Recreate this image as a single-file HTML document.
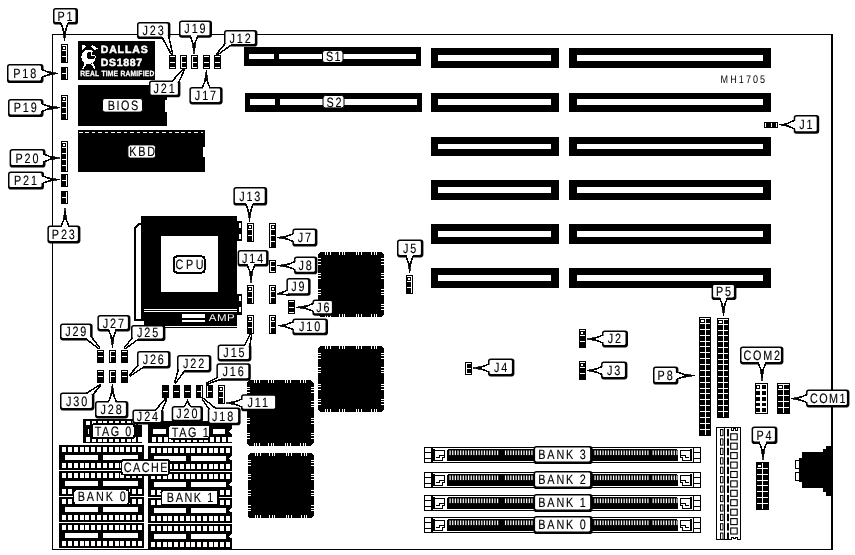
<!DOCTYPE html>
<html><head><meta charset="utf-8"><title>MH1705 motherboard layout</title>
<style>
html,body{margin:0;padding:0;background:#fff;}
svg{display:block;font-family:"Liberation Sans",sans-serif;filter:grayscale(1);}
</style></head>
<body>
<svg width="855" height="555" viewBox="0 0 855 555" shape-rendering="crispEdges" text-rendering="geometricPrecision">
<rect x="0" y="0" width="855" height="555" fill="#fff"/>
<rect x="52.5" y="34.5" width="779.5" height="515" fill="#fff" stroke="#000" stroke-width="1"/>
<rect x="831" y="34" width="2" height="516" fill="#000"/>
<rect x="431" y="48" width="128" height="19.6" fill="#000"/>
<rect x="438" y="55" width="113" height="6" fill="#fff"/>
<rect x="569" y="48" width="202" height="19.6" fill="#000"/>
<rect x="577" y="55" width="186.4" height="6" fill="#fff"/>
<rect x="431" y="93" width="128" height="18.6" fill="#000"/>
<rect x="438" y="99" width="113" height="6" fill="#fff"/>
<rect x="569" y="93" width="202" height="18.6" fill="#000"/>
<rect x="577" y="99" width="186.4" height="6" fill="#fff"/>
<rect x="431" y="137" width="128" height="19" fill="#000"/>
<rect x="438" y="144" width="113" height="5" fill="#fff"/>
<rect x="569" y="137" width="202" height="19" fill="#000"/>
<rect x="577" y="144" width="186.4" height="5" fill="#fff"/>
<rect x="431" y="179.6" width="128" height="20.4" fill="#000"/>
<rect x="438" y="187" width="113" height="6" fill="#fff"/>
<rect x="569" y="179.6" width="202" height="20.4" fill="#000"/>
<rect x="577" y="187" width="186.4" height="6" fill="#fff"/>
<rect x="431" y="224" width="128" height="19.6" fill="#000"/>
<rect x="438" y="231" width="113" height="6" fill="#fff"/>
<rect x="569" y="224" width="202" height="19.6" fill="#000"/>
<rect x="577" y="231" width="186.4" height="6" fill="#fff"/>
<rect x="431" y="268" width="128" height="19.6" fill="#000"/>
<rect x="438" y="275" width="113" height="6" fill="#fff"/>
<rect x="569" y="268" width="202" height="19.6" fill="#000"/>
<rect x="577" y="275" width="186.4" height="6" fill="#fff"/>
<rect x="244" y="47" width="177" height="18.6" fill="#000"/>
<rect x="249" y="54" width="25" height="5" fill="#fff"/>
<rect x="279" y="54" width="137" height="5" fill="#fff"/>
<rect x="245" y="93" width="177" height="18.6" fill="#000"/>
<rect x="250" y="99" width="25" height="6" fill="#fff"/>
<rect x="280" y="99" width="137" height="6" fill="#fff"/>
<rect x="78" y="41" width="77" height="38.6" fill="#000"/>
<rect x="78" y="85" width="89" height="40.6" fill="#000"/>
<rect x="165" y="99.6" width="2" height="12.6" fill="#fff"/>
<rect x="78" y="130" width="127" height="42.4" fill="#000"/>
<rect x="203" y="146.7" width="2" height="10" fill="#fff"/>
<line x1="79" y1="132.5" x2="203" y2="132.5" stroke="#fff" stroke-width="1" stroke-dasharray="3.5 2.9"/>
<text transform="translate(100.7 53.4) scale(1 1)" font-size="10.5" text-anchor="start" textLength="47" lengthAdjust="spacing" font-weight="bold" fill="#fff" stroke="#fff" stroke-width="0.5">DALLAS</text>
<text transform="translate(100.7 66) scale(1 1)" font-size="10.5" text-anchor="start" textLength="41.5" lengthAdjust="spacing" font-weight="bold" fill="#fff" stroke="#fff" stroke-width="0.5">DS1887</text>
<text transform="translate(80.3 75.7) scale(0.88 1)" font-size="7.6" text-anchor="start" textLength="84.0909" lengthAdjust="spacing" font-weight="bold" fill="#fff" stroke="#fff" stroke-width="0.3">REAL TIME RAMIFIED</text>
<g fill="#fff"><circle cx="88.5" cy="57" r="7.2"/><polygon points="82,44.5 86,46 82.5,49.5"/><polygon points="92,44.5 97.5,48.5 95,50 91,46.5"/><polygon points="84.5,63 86.5,64 83.5,69 82.5,68.5"/><polygon points="93,63 95.5,68.5 94.5,69 91,64"/></g>
<g fill="#000"><circle cx="91" cy="55.5" r="4"/></g><rect x="90.5" y="51" width="1.2" height="5" fill="#fff"/><rect x="90.5" y="55" width="4" height="1.2" fill="#fff"/>
<rect x="61" y="44" width="7" height="19" fill="#000"/>
<rect x="66" y="45" width="1" height="17" fill="#fff"/>
<rect x="62" y="50" width="5" height="1" fill="#fff"/>
<rect x="62" y="56" width="5" height="1" fill="#fff"/>
<rect x="62" y="45" width="5" height="1" fill="#fff"/>
<rect x="63" y="47" width="2" height="2" fill="#fff"/>
<rect x="61" y="67" width="7" height="13" fill="#000"/>
<rect x="66" y="68" width="1" height="11" fill="#fff"/>
<rect x="62" y="73" width="5" height="1" fill="#fff"/>
<rect x="61" y="95" width="7" height="25" fill="#000"/>
<rect x="66" y="96" width="1" height="23" fill="#fff"/>
<rect x="62" y="101" width="5" height="1" fill="#fff"/>
<rect x="62" y="107" width="5" height="1" fill="#fff"/>
<rect x="62" y="113" width="5" height="1" fill="#fff"/>
<rect x="62" y="96" width="5" height="1" fill="#fff"/>
<rect x="63" y="98" width="2" height="2" fill="#fff"/>
<rect x="61" y="141" width="7" height="31" fill="#000"/>
<rect x="66" y="142" width="1" height="29" fill="#fff"/>
<rect x="62" y="147" width="5" height="1" fill="#fff"/>
<rect x="62" y="153" width="5" height="1" fill="#fff"/>
<rect x="62" y="159" width="5" height="1" fill="#fff"/>
<rect x="62" y="165" width="5" height="1" fill="#fff"/>
<rect x="62" y="142" width="5" height="1" fill="#fff"/>
<rect x="63" y="144" width="2" height="2" fill="#fff"/>
<rect x="61" y="174" width="7" height="13" fill="#000"/>
<rect x="66" y="175" width="1" height="11" fill="#fff"/>
<rect x="62" y="180" width="5" height="1" fill="#fff"/>
<rect x="61" y="191" width="7" height="13" fill="#000"/>
<rect x="66" y="192" width="1" height="11" fill="#fff"/>
<rect x="62" y="197" width="5" height="1" fill="#fff"/>
<rect x="169" y="55" width="7" height="14" fill="#000"/>
<rect x="170" y="56" width="5" height="1" fill="#fff"/>
<rect x="170" y="62" width="5" height="1" fill="#fff"/>
<rect x="170" y="67" width="5" height="1" fill="#fff"/>
<rect x="180" y="55" width="7" height="14" fill="#000"/>
<rect x="181" y="56" width="5" height="1" fill="#fff"/>
<rect x="181" y="62" width="5" height="1" fill="#fff"/>
<rect x="181" y="67" width="5" height="1" fill="#fff"/>
<rect x="181" y="56" width="1" height="12" fill="#fff"/>
<rect x="191" y="55" width="7" height="14" fill="#000"/>
<rect x="192" y="56" width="5" height="1" fill="#fff"/>
<rect x="192" y="62" width="5" height="1" fill="#fff"/>
<rect x="192" y="67" width="5" height="1" fill="#fff"/>
<rect x="192" y="56" width="1" height="12" fill="#fff"/>
<rect x="203" y="55" width="7" height="14" fill="#000"/>
<rect x="204" y="56" width="5" height="1" fill="#fff"/>
<rect x="204" y="62" width="5" height="1" fill="#fff"/>
<rect x="204" y="67" width="5" height="1" fill="#fff"/>
<rect x="214" y="55" width="7" height="14" fill="#000"/>
<rect x="215" y="56" width="5" height="1" fill="#fff"/>
<rect x="215" y="62" width="5" height="1" fill="#fff"/>
<rect x="215" y="67" width="5" height="1" fill="#fff"/>
<rect x="764" y="122" width="14" height="6" fill="#000"/>
<rect x="765" y="123" width="1" height="4" fill="#fff"/>
<rect x="771" y="123" width="1" height="4" fill="#fff"/>
<rect x="776" y="123" width="1" height="4" fill="#fff"/>
<text transform="translate(720.6 83.2) scale(0.82 1)" font-size="11" text-anchor="start" textLength="54.2683" lengthAdjust="spacing">MH1705</text>
<rect x="141" y="216.4" width="96.4" height="92.9" fill="#000"/>
<rect x="161" y="236" width="57" height="56" fill="#fff"/>
<rect x="144.2" y="310.2" width="93.2" height="0.8" fill="#000"/>
<rect x="144.2" y="312" width="93.2" height="14" fill="#000"/>
<rect x="144.2" y="326.9" width="93.2" height="1" fill="#000"/>
<path d="M134,320.5 V227 L138.5,222.5 H141.2 V320.5 Z" fill="#000"/>
<path d="M136,319 V228 L139,225 H141 V319 Z" fill="#fff"/>
<rect x="134" y="319" width="10.4" height="1.5" fill="#000"/>
<rect x="141" y="309" width="3.2" height="11.5" fill="#000"/>
<rect x="237.4" y="221" width="4.2" height="20" fill="#000"/>
<rect x="237.4" y="294" width="4.2" height="20.6" fill="#000"/>
<rect x="239" y="223" width="1.5" height="5" fill="#fff"/>
<rect x="239" y="234" width="1.5" height="5" fill="#fff"/>
<rect x="239" y="296" width="1.5" height="5" fill="#fff"/>
<rect x="239" y="307" width="1.5" height="5" fill="#fff"/>
<rect x="182.1" y="314" width="23.2" height="4" fill="#fff"/>
<rect x="182.1" y="319.8" width="23.2" height="1.9" fill="#fff"/>
<text transform="translate(208.8 321.2) scale(1.15 1)" font-size="10" text-anchor="start" textLength="22.5217" lengthAdjust="spacing" fill="#fff">AMP</text>
<rect x="174" y="256.4" width="30.6" height="16.2" rx="3" fill="#fff" stroke="#000" stroke-width="2"/>
<text transform="translate(189.5 269.4) scale(0.8 1)" font-size="13.5" text-anchor="middle" textLength="35" lengthAdjust="spacing" stroke="#000" stroke-width="0.15">CPU</text>
<rect x="247" y="223" width="7" height="19" fill="#000"/>
<rect x="252" y="224" width="1" height="17" fill="#fff"/>
<rect x="248" y="229" width="5" height="1" fill="#fff"/>
<rect x="248" y="235" width="5" height="1" fill="#fff"/>
<rect x="248" y="224" width="5" height="1" fill="#fff"/>
<rect x="249" y="226" width="2" height="2" fill="#fff"/>
<rect x="269" y="223" width="7" height="25" fill="#000"/>
<rect x="270" y="224" width="1" height="23" fill="#fff"/>
<rect x="270" y="229" width="5" height="1" fill="#fff"/>
<rect x="270" y="235" width="5" height="1" fill="#fff"/>
<rect x="270" y="241" width="5" height="1" fill="#fff"/>
<rect x="270" y="224" width="5" height="1" fill="#fff"/>
<rect x="272" y="226" width="2" height="2" fill="#fff"/>
<rect x="269" y="259.5" width="7" height="13" fill="#000"/>
<rect x="270" y="265.5" width="5" height="1" fill="#fff"/>
<rect x="270" y="260.5" width="1" height="11" fill="#fff"/>
<rect x="270" y="260.5" width="5" height="1" fill="#fff"/>
<rect x="270" y="270.5" width="5" height="1" fill="#fff"/>
<rect x="247" y="285" width="7" height="19" fill="#000"/>
<rect x="252" y="286" width="1" height="17" fill="#fff"/>
<rect x="248" y="291" width="5" height="1" fill="#fff"/>
<rect x="248" y="297" width="5" height="1" fill="#fff"/>
<rect x="248" y="286" width="5" height="1" fill="#fff"/>
<rect x="249" y="288" width="2" height="2" fill="#fff"/>
<rect x="269" y="285" width="7" height="19" fill="#000"/>
<rect x="270" y="286" width="1" height="17" fill="#fff"/>
<rect x="270" y="291" width="5" height="1" fill="#fff"/>
<rect x="270" y="297" width="5" height="1" fill="#fff"/>
<rect x="270" y="286" width="5" height="1" fill="#fff"/>
<rect x="272" y="288" width="2" height="2" fill="#fff"/>
<rect x="247" y="315" width="7" height="19" fill="#000"/>
<rect x="252" y="316" width="1" height="17" fill="#fff"/>
<rect x="248" y="321" width="5" height="1" fill="#fff"/>
<rect x="248" y="327" width="5" height="1" fill="#fff"/>
<rect x="248" y="316" width="5" height="1" fill="#fff"/>
<rect x="249" y="318" width="2" height="2" fill="#fff"/>
<rect x="269" y="315" width="7" height="19" fill="#000"/>
<rect x="270" y="316" width="1" height="17" fill="#fff"/>
<rect x="270" y="321" width="5" height="1" fill="#fff"/>
<rect x="270" y="327" width="5" height="1" fill="#fff"/>
<rect x="270" y="316" width="5" height="1" fill="#fff"/>
<rect x="272" y="318" width="2" height="2" fill="#fff"/>
<rect x="288" y="300.4" width="7" height="14" fill="#000"/>
<rect x="289" y="301.4" width="5" height="1" fill="#fff"/>
<rect x="289" y="307.4" width="5" height="1" fill="#fff"/>
<rect x="289" y="312.4" width="5" height="1" fill="#fff"/>
<rect x="406" y="275" width="7" height="19" fill="#000"/>
<rect x="411" y="276" width="1" height="17" fill="#fff"/>
<rect x="407" y="281" width="5" height="1" fill="#fff"/>
<rect x="407" y="287" width="5" height="1" fill="#fff"/>
<rect x="407" y="276" width="5" height="1" fill="#fff"/>
<rect x="408" y="278" width="2" height="2" fill="#fff"/>
<rect x="465" y="361.6" width="7" height="13" fill="#000"/>
<rect x="466" y="367.6" width="5" height="1" fill="#fff"/>
<rect x="466" y="362.6" width="1" height="11" fill="#fff"/>
<rect x="466" y="362.6" width="5" height="1" fill="#fff"/>
<rect x="466" y="372.6" width="5" height="1" fill="#fff"/>
<rect x="579" y="329" width="7" height="19" fill="#000"/>
<rect x="580" y="335" width="5" height="1" fill="#fff"/>
<rect x="580" y="341" width="5" height="1" fill="#fff"/>
<rect x="580" y="330" width="5" height="1" fill="#fff"/>
<rect x="581" y="332" width="2" height="2" fill="#fff"/>
<rect x="579" y="361" width="7" height="19" fill="#000"/>
<rect x="580" y="367" width="5" height="1" fill="#fff"/>
<rect x="580" y="373" width="5" height="1" fill="#fff"/>
<rect x="580" y="362" width="5" height="1" fill="#fff"/>
<rect x="581" y="364" width="2" height="2" fill="#fff"/>
<rect x="97" y="350" width="7" height="13" fill="#000"/>
<rect x="98" y="351" width="5" height="1" fill="#fff"/>
<rect x="98" y="356" width="5" height="1" fill="#fff"/>
<rect x="97" y="370" width="7" height="13" fill="#000"/>
<rect x="98" y="371" width="5" height="1" fill="#fff"/>
<rect x="98" y="376" width="5" height="1" fill="#fff"/>
<rect x="109" y="350" width="7" height="13" fill="#000"/>
<rect x="110" y="351" width="5" height="1" fill="#fff"/>
<rect x="110" y="356" width="5" height="1" fill="#fff"/>
<rect x="110" y="351" width="1" height="11" fill="#fff"/>
<rect x="109" y="370" width="7" height="13" fill="#000"/>
<rect x="110" y="371" width="5" height="1" fill="#fff"/>
<rect x="110" y="376" width="5" height="1" fill="#fff"/>
<rect x="110" y="371" width="1" height="11" fill="#fff"/>
<rect x="121" y="350" width="7" height="13" fill="#000"/>
<rect x="122" y="351" width="5" height="1" fill="#fff"/>
<rect x="122" y="356" width="5" height="1" fill="#fff"/>
<rect x="121" y="370" width="7" height="13" fill="#000"/>
<rect x="122" y="371" width="5" height="1" fill="#fff"/>
<rect x="122" y="376" width="5" height="1" fill="#fff"/>
<rect x="162" y="385" width="7" height="13" fill="#000"/>
<rect x="163" y="391" width="5" height="1" fill="#fff"/>
<rect x="173" y="385" width="7" height="13" fill="#000"/>
<rect x="174" y="391" width="5" height="1" fill="#fff"/>
<rect x="184" y="385" width="7" height="13" fill="#000"/>
<rect x="185" y="391" width="5" height="1" fill="#fff"/>
<rect x="196" y="385" width="7" height="13" fill="#000"/>
<rect x="197" y="391" width="5" height="1" fill="#fff"/>
<rect x="201" y="386" width="1" height="11" fill="#fff"/>
<rect x="206" y="385" width="7" height="13" fill="#000"/>
<rect x="207" y="391" width="5" height="1" fill="#fff"/>
<rect x="207" y="386" width="1" height="11" fill="#fff"/>
<rect x="218" y="385" width="7" height="19" fill="#000"/>
<rect x="223" y="386" width="1" height="17" fill="#fff"/>
<rect x="219" y="391" width="5" height="1" fill="#fff"/>
<rect x="219" y="397" width="5" height="1" fill="#fff"/>
<rect x="219" y="386" width="5" height="1" fill="#fff"/>
<rect x="220" y="388" width="2" height="2" fill="#fff"/>
<path d="M320,252 H381.4 L384.4,255 V314 L381.4,317 H320 L318,315 V254 Z" fill="#000"/>
<rect x="325" y="252" width="1" height="3" fill="#fff"/>
<rect x="325" y="314" width="1" height="3" fill="#fff"/>
<rect x="318" y="258" width="3" height="1" fill="#fff"/>
<rect x="381.4" y="258" width="3" height="1" fill="#fff"/>
<rect x="327" y="252" width="1" height="3" fill="#fff"/>
<rect x="327" y="314" width="1" height="3" fill="#fff"/>
<rect x="318" y="261" width="3" height="1" fill="#fff"/>
<rect x="381.4" y="261" width="3" height="1" fill="#fff"/>
<rect x="330" y="252" width="1" height="3" fill="#fff"/>
<rect x="330" y="314" width="1" height="3" fill="#fff"/>
<rect x="318" y="264" width="3" height="1" fill="#fff"/>
<rect x="381.4" y="264" width="3" height="1" fill="#fff"/>
<rect x="339" y="252" width="1" height="3" fill="#fff"/>
<rect x="339" y="314" width="1" height="3" fill="#fff"/>
<rect x="318" y="273" width="3" height="1" fill="#fff"/>
<rect x="381.4" y="273" width="3" height="1" fill="#fff"/>
<rect x="342" y="252" width="1" height="3" fill="#fff"/>
<rect x="342" y="314" width="1" height="3" fill="#fff"/>
<rect x="318" y="275" width="3" height="1" fill="#fff"/>
<rect x="381.4" y="275" width="3" height="1" fill="#fff"/>
<rect x="344" y="252" width="1" height="3" fill="#fff"/>
<rect x="344" y="314" width="1" height="3" fill="#fff"/>
<rect x="318" y="278" width="3" height="1" fill="#fff"/>
<rect x="381.4" y="278" width="3" height="1" fill="#fff"/>
<rect x="356" y="252" width="1" height="3" fill="#fff"/>
<rect x="356" y="314" width="1" height="3" fill="#fff"/>
<rect x="318" y="289" width="3" height="1" fill="#fff"/>
<rect x="381.4" y="289" width="3" height="1" fill="#fff"/>
<rect x="358" y="252" width="1" height="3" fill="#fff"/>
<rect x="358" y="314" width="1" height="3" fill="#fff"/>
<rect x="318" y="292" width="3" height="1" fill="#fff"/>
<rect x="381.4" y="292" width="3" height="1" fill="#fff"/>
<rect x="361" y="252" width="1" height="3" fill="#fff"/>
<rect x="361" y="314" width="1" height="3" fill="#fff"/>
<rect x="318" y="294" width="3" height="1" fill="#fff"/>
<rect x="381.4" y="294" width="3" height="1" fill="#fff"/>
<rect x="371" y="252" width="1" height="3" fill="#fff"/>
<rect x="371" y="314" width="1" height="3" fill="#fff"/>
<rect x="318" y="304" width="3" height="1" fill="#fff"/>
<rect x="381.4" y="304" width="3" height="1" fill="#fff"/>
<rect x="374" y="252" width="1" height="3" fill="#fff"/>
<rect x="374" y="314" width="1" height="3" fill="#fff"/>
<rect x="318" y="306" width="3" height="1" fill="#fff"/>
<rect x="381.4" y="306" width="3" height="1" fill="#fff"/>
<rect x="376" y="252" width="1" height="3" fill="#fff"/>
<rect x="376" y="314" width="1" height="3" fill="#fff"/>
<rect x="318" y="309" width="3" height="1" fill="#fff"/>
<rect x="381.4" y="309" width="3" height="1" fill="#fff"/>
<path d="M320,346 H381.4 L384.4,349 V409 L381.4,412 H320 L318,410 V348 Z" fill="#000"/>
<rect x="325" y="346" width="1" height="3" fill="#fff"/>
<rect x="325" y="409" width="1" height="3" fill="#fff"/>
<rect x="318" y="353" width="3" height="1" fill="#fff"/>
<rect x="381.4" y="353" width="3" height="1" fill="#fff"/>
<rect x="327" y="346" width="1" height="3" fill="#fff"/>
<rect x="327" y="409" width="1" height="3" fill="#fff"/>
<rect x="318" y="355" width="3" height="1" fill="#fff"/>
<rect x="381.4" y="355" width="3" height="1" fill="#fff"/>
<rect x="330" y="346" width="1" height="3" fill="#fff"/>
<rect x="330" y="409" width="1" height="3" fill="#fff"/>
<rect x="318" y="358" width="3" height="1" fill="#fff"/>
<rect x="381.4" y="358" width="3" height="1" fill="#fff"/>
<rect x="339" y="346" width="1" height="3" fill="#fff"/>
<rect x="339" y="409" width="1" height="3" fill="#fff"/>
<rect x="318" y="367" width="3" height="1" fill="#fff"/>
<rect x="381.4" y="367" width="3" height="1" fill="#fff"/>
<rect x="342" y="346" width="1" height="3" fill="#fff"/>
<rect x="342" y="409" width="1" height="3" fill="#fff"/>
<rect x="318" y="370" width="3" height="1" fill="#fff"/>
<rect x="381.4" y="370" width="3" height="1" fill="#fff"/>
<rect x="344" y="346" width="1" height="3" fill="#fff"/>
<rect x="344" y="409" width="1" height="3" fill="#fff"/>
<rect x="318" y="372" width="3" height="1" fill="#fff"/>
<rect x="381.4" y="372" width="3" height="1" fill="#fff"/>
<rect x="356" y="346" width="1" height="3" fill="#fff"/>
<rect x="356" y="409" width="1" height="3" fill="#fff"/>
<rect x="318" y="384" width="3" height="1" fill="#fff"/>
<rect x="381.4" y="384" width="3" height="1" fill="#fff"/>
<rect x="358" y="346" width="1" height="3" fill="#fff"/>
<rect x="358" y="409" width="1" height="3" fill="#fff"/>
<rect x="318" y="386" width="3" height="1" fill="#fff"/>
<rect x="381.4" y="386" width="3" height="1" fill="#fff"/>
<rect x="361" y="346" width="1" height="3" fill="#fff"/>
<rect x="361" y="409" width="1" height="3" fill="#fff"/>
<rect x="318" y="389" width="3" height="1" fill="#fff"/>
<rect x="381.4" y="389" width="3" height="1" fill="#fff"/>
<rect x="371" y="346" width="1" height="3" fill="#fff"/>
<rect x="371" y="409" width="1" height="3" fill="#fff"/>
<rect x="318" y="399" width="3" height="1" fill="#fff"/>
<rect x="381.4" y="399" width="3" height="1" fill="#fff"/>
<rect x="374" y="346" width="1" height="3" fill="#fff"/>
<rect x="374" y="409" width="1" height="3" fill="#fff"/>
<rect x="318" y="401" width="3" height="1" fill="#fff"/>
<rect x="381.4" y="401" width="3" height="1" fill="#fff"/>
<rect x="376" y="346" width="1" height="3" fill="#fff"/>
<rect x="376" y="409" width="1" height="3" fill="#fff"/>
<rect x="318" y="404" width="3" height="1" fill="#fff"/>
<rect x="381.4" y="404" width="3" height="1" fill="#fff"/>
<path d="M249,380 H310.6 L313.6,383 V443 L310.6,446 H249 L247,444 V382 Z" fill="#000"/>
<rect x="254" y="380" width="1" height="3" fill="#fff"/>
<rect x="254" y="443" width="1" height="3" fill="#fff"/>
<rect x="247" y="387" width="3" height="1" fill="#fff"/>
<rect x="310.6" y="387" width="3" height="1" fill="#fff"/>
<rect x="256" y="380" width="1" height="3" fill="#fff"/>
<rect x="256" y="443" width="1" height="3" fill="#fff"/>
<rect x="247" y="389" width="3" height="1" fill="#fff"/>
<rect x="310.6" y="389" width="3" height="1" fill="#fff"/>
<rect x="259" y="380" width="1" height="3" fill="#fff"/>
<rect x="259" y="443" width="1" height="3" fill="#fff"/>
<rect x="247" y="392" width="3" height="1" fill="#fff"/>
<rect x="310.6" y="392" width="3" height="1" fill="#fff"/>
<rect x="268" y="380" width="1" height="3" fill="#fff"/>
<rect x="268" y="443" width="1" height="3" fill="#fff"/>
<rect x="247" y="401" width="3" height="1" fill="#fff"/>
<rect x="310.6" y="401" width="3" height="1" fill="#fff"/>
<rect x="271" y="380" width="1" height="3" fill="#fff"/>
<rect x="271" y="443" width="1" height="3" fill="#fff"/>
<rect x="247" y="404" width="3" height="1" fill="#fff"/>
<rect x="310.6" y="404" width="3" height="1" fill="#fff"/>
<rect x="273" y="380" width="1" height="3" fill="#fff"/>
<rect x="273" y="443" width="1" height="3" fill="#fff"/>
<rect x="247" y="406" width="3" height="1" fill="#fff"/>
<rect x="310.6" y="406" width="3" height="1" fill="#fff"/>
<rect x="285" y="380" width="1" height="3" fill="#fff"/>
<rect x="285" y="443" width="1" height="3" fill="#fff"/>
<rect x="247" y="418" width="3" height="1" fill="#fff"/>
<rect x="310.6" y="418" width="3" height="1" fill="#fff"/>
<rect x="287" y="380" width="1" height="3" fill="#fff"/>
<rect x="287" y="443" width="1" height="3" fill="#fff"/>
<rect x="247" y="420" width="3" height="1" fill="#fff"/>
<rect x="310.6" y="420" width="3" height="1" fill="#fff"/>
<rect x="290" y="380" width="1" height="3" fill="#fff"/>
<rect x="290" y="443" width="1" height="3" fill="#fff"/>
<rect x="247" y="423" width="3" height="1" fill="#fff"/>
<rect x="310.6" y="423" width="3" height="1" fill="#fff"/>
<rect x="300" y="380" width="1" height="3" fill="#fff"/>
<rect x="300" y="443" width="1" height="3" fill="#fff"/>
<rect x="247" y="433" width="3" height="1" fill="#fff"/>
<rect x="310.6" y="433" width="3" height="1" fill="#fff"/>
<rect x="303" y="380" width="1" height="3" fill="#fff"/>
<rect x="303" y="443" width="1" height="3" fill="#fff"/>
<rect x="247" y="435" width="3" height="1" fill="#fff"/>
<rect x="310.6" y="435" width="3" height="1" fill="#fff"/>
<rect x="305" y="380" width="1" height="3" fill="#fff"/>
<rect x="305" y="443" width="1" height="3" fill="#fff"/>
<rect x="247" y="438" width="3" height="1" fill="#fff"/>
<rect x="310.6" y="438" width="3" height="1" fill="#fff"/>
<path d="M250,453 H311.4 L314.4,456 V515.4 L311.4,518.4 H250 L248,516.4 V455 Z" fill="#000"/>
<rect x="255" y="453" width="1" height="3" fill="#fff"/>
<rect x="255" y="515.4" width="1" height="3" fill="#fff"/>
<rect x="248" y="460" width="3" height="1" fill="#fff"/>
<rect x="311.4" y="460" width="3" height="1" fill="#fff"/>
<rect x="257" y="453" width="1" height="3" fill="#fff"/>
<rect x="257" y="515.4" width="1" height="3" fill="#fff"/>
<rect x="248" y="462" width="3" height="1" fill="#fff"/>
<rect x="311.4" y="462" width="3" height="1" fill="#fff"/>
<rect x="260" y="453" width="1" height="3" fill="#fff"/>
<rect x="260" y="515.4" width="1" height="3" fill="#fff"/>
<rect x="248" y="465" width="3" height="1" fill="#fff"/>
<rect x="311.4" y="465" width="3" height="1" fill="#fff"/>
<rect x="269" y="453" width="1" height="3" fill="#fff"/>
<rect x="269" y="515.4" width="1" height="3" fill="#fff"/>
<rect x="248" y="474" width="3" height="1" fill="#fff"/>
<rect x="311.4" y="474" width="3" height="1" fill="#fff"/>
<rect x="272" y="453" width="1" height="3" fill="#fff"/>
<rect x="272" y="515.4" width="1" height="3" fill="#fff"/>
<rect x="248" y="476" width="3" height="1" fill="#fff"/>
<rect x="311.4" y="476" width="3" height="1" fill="#fff"/>
<rect x="274" y="453" width="1" height="3" fill="#fff"/>
<rect x="274" y="515.4" width="1" height="3" fill="#fff"/>
<rect x="248" y="479" width="3" height="1" fill="#fff"/>
<rect x="311.4" y="479" width="3" height="1" fill="#fff"/>
<rect x="286" y="453" width="1" height="3" fill="#fff"/>
<rect x="286" y="515.4" width="1" height="3" fill="#fff"/>
<rect x="248" y="490" width="3" height="1" fill="#fff"/>
<rect x="311.4" y="490" width="3" height="1" fill="#fff"/>
<rect x="288" y="453" width="1" height="3" fill="#fff"/>
<rect x="288" y="515.4" width="1" height="3" fill="#fff"/>
<rect x="248" y="493" width="3" height="1" fill="#fff"/>
<rect x="311.4" y="493" width="3" height="1" fill="#fff"/>
<rect x="291" y="453" width="1" height="3" fill="#fff"/>
<rect x="291" y="515.4" width="1" height="3" fill="#fff"/>
<rect x="248" y="495" width="3" height="1" fill="#fff"/>
<rect x="311.4" y="495" width="3" height="1" fill="#fff"/>
<rect x="301" y="453" width="1" height="3" fill="#fff"/>
<rect x="301" y="515.4" width="1" height="3" fill="#fff"/>
<rect x="248" y="505" width="3" height="1" fill="#fff"/>
<rect x="311.4" y="505" width="3" height="1" fill="#fff"/>
<rect x="304" y="453" width="1" height="3" fill="#fff"/>
<rect x="304" y="515.4" width="1" height="3" fill="#fff"/>
<rect x="248" y="508" width="3" height="1" fill="#fff"/>
<rect x="311.4" y="508" width="3" height="1" fill="#fff"/>
<rect x="306" y="453" width="1" height="3" fill="#fff"/>
<rect x="306" y="515.4" width="1" height="3" fill="#fff"/>
<rect x="248" y="510" width="3" height="1" fill="#fff"/>
<rect x="311.4" y="510" width="3" height="1" fill="#fff"/>
<rect x="83" y="419" width="59" height="24" fill="#000"/>
<rect x="86" y="421" width="4" height="4" fill="#fff"/>
<rect x="86" y="437" width="4" height="5" fill="#fff"/>
<rect x="91.8" y="421" width="4" height="4" fill="#fff"/>
<rect x="91.8" y="437" width="4" height="5" fill="#fff"/>
<rect x="97.6" y="421" width="4" height="4" fill="#fff"/>
<rect x="97.6" y="437" width="4" height="5" fill="#fff"/>
<rect x="103.4" y="421" width="4" height="4" fill="#fff"/>
<rect x="103.4" y="437" width="4" height="5" fill="#fff"/>
<rect x="109.2" y="421" width="4" height="4" fill="#fff"/>
<rect x="109.2" y="437" width="4" height="5" fill="#fff"/>
<rect x="115" y="421" width="4" height="4" fill="#fff"/>
<rect x="115" y="437" width="4" height="5" fill="#fff"/>
<rect x="120.8" y="421" width="4" height="4" fill="#fff"/>
<rect x="120.8" y="437" width="4" height="5" fill="#fff"/>
<rect x="126.6" y="421" width="4" height="4" fill="#fff"/>
<rect x="126.6" y="437" width="4" height="5" fill="#fff"/>
<rect x="132.4" y="421" width="4" height="4" fill="#fff"/>
<rect x="132.4" y="437" width="4" height="5" fill="#fff"/>
<rect x="138.2" y="421" width="4" height="4" fill="#fff"/>
<rect x="138.2" y="437" width="4" height="5" fill="#fff"/>
<rect x="148.4" y="420.5" width="83.6" height="22.5" fill="#000"/>
<rect x="87.6" y="428.6" width="1.5" height="5.4" fill="#fff"/>
<rect x="152" y="437" width="4" height="5" fill="#fff"/>
<rect x="157.82" y="437" width="4" height="5" fill="#fff"/>
<rect x="163.64" y="437" width="4" height="5" fill="#fff"/>
<rect x="169.46" y="437" width="4" height="5" fill="#fff"/>
<rect x="175.28" y="437" width="4" height="5" fill="#fff"/>
<rect x="181.1" y="437" width="4" height="5" fill="#fff"/>
<rect x="186.92" y="437" width="4" height="5" fill="#fff"/>
<rect x="192.74" y="437" width="4" height="5" fill="#fff"/>
<rect x="198.56" y="437" width="4" height="5" fill="#fff"/>
<rect x="204.38" y="437" width="4" height="5" fill="#fff"/>
<rect x="210.2" y="437" width="4" height="5" fill="#fff"/>
<rect x="216.02" y="437" width="4" height="5" fill="#fff"/>
<rect x="221.84" y="437" width="4" height="5" fill="#fff"/>
<rect x="227.66" y="437" width="4" height="5" fill="#fff"/>
<rect x="153" y="429" width="13" height="4.8" fill="#fff"/>
<rect x="213" y="429" width="12" height="4.8" fill="#fff"/>
<rect x="59" y="445" width="85" height="25" fill="#000"/>
<rect x="62" y="447" width="4" height="5.4" fill="#fff"/>
<rect x="62" y="463" width="4" height="5" fill="#fff"/>
<rect x="67.8462" y="447" width="4" height="5.4" fill="#fff"/>
<rect x="67.8462" y="463" width="4" height="5" fill="#fff"/>
<rect x="73.6923" y="447" width="4" height="5.4" fill="#fff"/>
<rect x="73.6923" y="463" width="4" height="5" fill="#fff"/>
<rect x="79.5385" y="447" width="4" height="5.4" fill="#fff"/>
<rect x="79.5385" y="463" width="4" height="5" fill="#fff"/>
<rect x="85.3846" y="447" width="4" height="5.4" fill="#fff"/>
<rect x="85.3846" y="463" width="4" height="5" fill="#fff"/>
<rect x="91.2308" y="447" width="4" height="5.4" fill="#fff"/>
<rect x="91.2308" y="463" width="4" height="5" fill="#fff"/>
<rect x="97.0769" y="447" width="4" height="5.4" fill="#fff"/>
<rect x="97.0769" y="463" width="4" height="5" fill="#fff"/>
<rect x="102.923" y="447" width="4" height="5.4" fill="#fff"/>
<rect x="102.923" y="463" width="4" height="5" fill="#fff"/>
<rect x="108.769" y="447" width="4" height="5.4" fill="#fff"/>
<rect x="108.769" y="463" width="4" height="5" fill="#fff"/>
<rect x="114.615" y="447" width="4" height="5.4" fill="#fff"/>
<rect x="114.615" y="463" width="4" height="5" fill="#fff"/>
<rect x="120.462" y="447" width="4" height="5.4" fill="#fff"/>
<rect x="120.462" y="463" width="4" height="5" fill="#fff"/>
<rect x="126.308" y="447" width="4" height="5.4" fill="#fff"/>
<rect x="126.308" y="463" width="4" height="5" fill="#fff"/>
<rect x="132.154" y="447" width="4" height="5.4" fill="#fff"/>
<rect x="132.154" y="463" width="4" height="5" fill="#fff"/>
<rect x="138" y="447" width="4" height="5.4" fill="#fff"/>
<rect x="138" y="463" width="4" height="5" fill="#fff"/>
<rect x="65" y="454.8" width="32.5" height="4.8" fill="#fff"/>
<rect x="102.5" y="454.8" width="35" height="4.8" fill="#fff"/>
<rect x="148.2" y="446" width="83.8" height="25" fill="#000"/>
<rect x="151.2" y="448" width="4" height="5.4" fill="#fff"/>
<rect x="151.2" y="464" width="4" height="5" fill="#fff"/>
<rect x="156.954" y="448" width="4" height="5.4" fill="#fff"/>
<rect x="156.954" y="464" width="4" height="5" fill="#fff"/>
<rect x="162.708" y="448" width="4" height="5.4" fill="#fff"/>
<rect x="162.708" y="464" width="4" height="5" fill="#fff"/>
<rect x="168.462" y="448" width="4" height="5.4" fill="#fff"/>
<rect x="168.462" y="464" width="4" height="5" fill="#fff"/>
<rect x="174.215" y="448" width="4" height="5.4" fill="#fff"/>
<rect x="174.215" y="464" width="4" height="5" fill="#fff"/>
<rect x="179.969" y="448" width="4" height="5.4" fill="#fff"/>
<rect x="179.969" y="464" width="4" height="5" fill="#fff"/>
<rect x="185.723" y="448" width="4" height="5.4" fill="#fff"/>
<rect x="185.723" y="464" width="4" height="5" fill="#fff"/>
<rect x="191.477" y="448" width="4" height="5.4" fill="#fff"/>
<rect x="191.477" y="464" width="4" height="5" fill="#fff"/>
<rect x="197.231" y="448" width="4" height="5.4" fill="#fff"/>
<rect x="197.231" y="464" width="4" height="5" fill="#fff"/>
<rect x="202.985" y="448" width="4" height="5.4" fill="#fff"/>
<rect x="202.985" y="464" width="4" height="5" fill="#fff"/>
<rect x="208.738" y="448" width="4" height="5.4" fill="#fff"/>
<rect x="208.738" y="464" width="4" height="5" fill="#fff"/>
<rect x="214.492" y="448" width="4" height="5.4" fill="#fff"/>
<rect x="214.492" y="464" width="4" height="5" fill="#fff"/>
<rect x="220.246" y="448" width="4" height="5.4" fill="#fff"/>
<rect x="220.246" y="464" width="4" height="5" fill="#fff"/>
<rect x="226" y="448" width="4" height="5.4" fill="#fff"/>
<rect x="226" y="464" width="4" height="5" fill="#fff"/>
<rect x="154.2" y="455.8" width="31.9" height="4.8" fill="#fff"/>
<rect x="191.1" y="455.8" width="34.4" height="4.8" fill="#fff"/>
<polygon points="232.2,455.4 229,458.2 232.2,461" fill="#fff"/>
<rect x="59" y="471" width="85" height="25" fill="#000"/>
<rect x="62" y="473" width="4" height="5.4" fill="#fff"/>
<rect x="62" y="489" width="4" height="5" fill="#fff"/>
<rect x="67.8462" y="473" width="4" height="5.4" fill="#fff"/>
<rect x="67.8462" y="489" width="4" height="5" fill="#fff"/>
<rect x="73.6923" y="473" width="4" height="5.4" fill="#fff"/>
<rect x="73.6923" y="489" width="4" height="5" fill="#fff"/>
<rect x="79.5385" y="473" width="4" height="5.4" fill="#fff"/>
<rect x="79.5385" y="489" width="4" height="5" fill="#fff"/>
<rect x="85.3846" y="473" width="4" height="5.4" fill="#fff"/>
<rect x="85.3846" y="489" width="4" height="5" fill="#fff"/>
<rect x="91.2308" y="473" width="4" height="5.4" fill="#fff"/>
<rect x="91.2308" y="489" width="4" height="5" fill="#fff"/>
<rect x="97.0769" y="473" width="4" height="5.4" fill="#fff"/>
<rect x="97.0769" y="489" width="4" height="5" fill="#fff"/>
<rect x="102.923" y="473" width="4" height="5.4" fill="#fff"/>
<rect x="102.923" y="489" width="4" height="5" fill="#fff"/>
<rect x="108.769" y="473" width="4" height="5.4" fill="#fff"/>
<rect x="108.769" y="489" width="4" height="5" fill="#fff"/>
<rect x="114.615" y="473" width="4" height="5.4" fill="#fff"/>
<rect x="114.615" y="489" width="4" height="5" fill="#fff"/>
<rect x="120.462" y="473" width="4" height="5.4" fill="#fff"/>
<rect x="120.462" y="489" width="4" height="5" fill="#fff"/>
<rect x="126.308" y="473" width="4" height="5.4" fill="#fff"/>
<rect x="126.308" y="489" width="4" height="5" fill="#fff"/>
<rect x="132.154" y="473" width="4" height="5.4" fill="#fff"/>
<rect x="132.154" y="489" width="4" height="5" fill="#fff"/>
<rect x="138" y="473" width="4" height="5.4" fill="#fff"/>
<rect x="138" y="489" width="4" height="5" fill="#fff"/>
<rect x="65" y="480.8" width="32.5" height="4.8" fill="#fff"/>
<rect x="102.5" y="480.8" width="35" height="4.8" fill="#fff"/>
<rect x="148.2" y="472" width="83.8" height="25" fill="#000"/>
<rect x="151.2" y="474" width="4" height="5.4" fill="#fff"/>
<rect x="151.2" y="490" width="4" height="5" fill="#fff"/>
<rect x="156.954" y="474" width="4" height="5.4" fill="#fff"/>
<rect x="156.954" y="490" width="4" height="5" fill="#fff"/>
<rect x="162.708" y="474" width="4" height="5.4" fill="#fff"/>
<rect x="162.708" y="490" width="4" height="5" fill="#fff"/>
<rect x="168.462" y="474" width="4" height="5.4" fill="#fff"/>
<rect x="168.462" y="490" width="4" height="5" fill="#fff"/>
<rect x="174.215" y="474" width="4" height="5.4" fill="#fff"/>
<rect x="174.215" y="490" width="4" height="5" fill="#fff"/>
<rect x="179.969" y="474" width="4" height="5.4" fill="#fff"/>
<rect x="179.969" y="490" width="4" height="5" fill="#fff"/>
<rect x="185.723" y="474" width="4" height="5.4" fill="#fff"/>
<rect x="185.723" y="490" width="4" height="5" fill="#fff"/>
<rect x="191.477" y="474" width="4" height="5.4" fill="#fff"/>
<rect x="191.477" y="490" width="4" height="5" fill="#fff"/>
<rect x="197.231" y="474" width="4" height="5.4" fill="#fff"/>
<rect x="197.231" y="490" width="4" height="5" fill="#fff"/>
<rect x="202.985" y="474" width="4" height="5.4" fill="#fff"/>
<rect x="202.985" y="490" width="4" height="5" fill="#fff"/>
<rect x="208.738" y="474" width="4" height="5.4" fill="#fff"/>
<rect x="208.738" y="490" width="4" height="5" fill="#fff"/>
<rect x="214.492" y="474" width="4" height="5.4" fill="#fff"/>
<rect x="214.492" y="490" width="4" height="5" fill="#fff"/>
<rect x="220.246" y="474" width="4" height="5.4" fill="#fff"/>
<rect x="220.246" y="490" width="4" height="5" fill="#fff"/>
<rect x="226" y="474" width="4" height="5.4" fill="#fff"/>
<rect x="226" y="490" width="4" height="5" fill="#fff"/>
<rect x="154.2" y="481.8" width="31.9" height="4.8" fill="#fff"/>
<rect x="191.1" y="481.8" width="34.4" height="4.8" fill="#fff"/>
<polygon points="232.2,481.4 229,484.2 232.2,487" fill="#fff"/>
<rect x="59" y="497" width="85" height="25" fill="#000"/>
<rect x="62" y="499" width="4" height="5.4" fill="#fff"/>
<rect x="62" y="515" width="4" height="5" fill="#fff"/>
<rect x="67.8462" y="499" width="4" height="5.4" fill="#fff"/>
<rect x="67.8462" y="515" width="4" height="5" fill="#fff"/>
<rect x="73.6923" y="499" width="4" height="5.4" fill="#fff"/>
<rect x="73.6923" y="515" width="4" height="5" fill="#fff"/>
<rect x="79.5385" y="499" width="4" height="5.4" fill="#fff"/>
<rect x="79.5385" y="515" width="4" height="5" fill="#fff"/>
<rect x="85.3846" y="499" width="4" height="5.4" fill="#fff"/>
<rect x="85.3846" y="515" width="4" height="5" fill="#fff"/>
<rect x="91.2308" y="499" width="4" height="5.4" fill="#fff"/>
<rect x="91.2308" y="515" width="4" height="5" fill="#fff"/>
<rect x="97.0769" y="499" width="4" height="5.4" fill="#fff"/>
<rect x="97.0769" y="515" width="4" height="5" fill="#fff"/>
<rect x="102.923" y="499" width="4" height="5.4" fill="#fff"/>
<rect x="102.923" y="515" width="4" height="5" fill="#fff"/>
<rect x="108.769" y="499" width="4" height="5.4" fill="#fff"/>
<rect x="108.769" y="515" width="4" height="5" fill="#fff"/>
<rect x="114.615" y="499" width="4" height="5.4" fill="#fff"/>
<rect x="114.615" y="515" width="4" height="5" fill="#fff"/>
<rect x="120.462" y="499" width="4" height="5.4" fill="#fff"/>
<rect x="120.462" y="515" width="4" height="5" fill="#fff"/>
<rect x="126.308" y="499" width="4" height="5.4" fill="#fff"/>
<rect x="126.308" y="515" width="4" height="5" fill="#fff"/>
<rect x="132.154" y="499" width="4" height="5.4" fill="#fff"/>
<rect x="132.154" y="515" width="4" height="5" fill="#fff"/>
<rect x="138" y="499" width="4" height="5.4" fill="#fff"/>
<rect x="138" y="515" width="4" height="5" fill="#fff"/>
<rect x="65" y="506.8" width="32.5" height="4.8" fill="#fff"/>
<rect x="102.5" y="506.8" width="35" height="4.8" fill="#fff"/>
<rect x="148.2" y="498" width="83.8" height="25" fill="#000"/>
<rect x="151.2" y="500" width="4" height="5.4" fill="#fff"/>
<rect x="151.2" y="516" width="4" height="5" fill="#fff"/>
<rect x="156.954" y="500" width="4" height="5.4" fill="#fff"/>
<rect x="156.954" y="516" width="4" height="5" fill="#fff"/>
<rect x="162.708" y="500" width="4" height="5.4" fill="#fff"/>
<rect x="162.708" y="516" width="4" height="5" fill="#fff"/>
<rect x="168.462" y="500" width="4" height="5.4" fill="#fff"/>
<rect x="168.462" y="516" width="4" height="5" fill="#fff"/>
<rect x="174.215" y="500" width="4" height="5.4" fill="#fff"/>
<rect x="174.215" y="516" width="4" height="5" fill="#fff"/>
<rect x="179.969" y="500" width="4" height="5.4" fill="#fff"/>
<rect x="179.969" y="516" width="4" height="5" fill="#fff"/>
<rect x="185.723" y="500" width="4" height="5.4" fill="#fff"/>
<rect x="185.723" y="516" width="4" height="5" fill="#fff"/>
<rect x="191.477" y="500" width="4" height="5.4" fill="#fff"/>
<rect x="191.477" y="516" width="4" height="5" fill="#fff"/>
<rect x="197.231" y="500" width="4" height="5.4" fill="#fff"/>
<rect x="197.231" y="516" width="4" height="5" fill="#fff"/>
<rect x="202.985" y="500" width="4" height="5.4" fill="#fff"/>
<rect x="202.985" y="516" width="4" height="5" fill="#fff"/>
<rect x="208.738" y="500" width="4" height="5.4" fill="#fff"/>
<rect x="208.738" y="516" width="4" height="5" fill="#fff"/>
<rect x="214.492" y="500" width="4" height="5.4" fill="#fff"/>
<rect x="214.492" y="516" width="4" height="5" fill="#fff"/>
<rect x="220.246" y="500" width="4" height="5.4" fill="#fff"/>
<rect x="220.246" y="516" width="4" height="5" fill="#fff"/>
<rect x="226" y="500" width="4" height="5.4" fill="#fff"/>
<rect x="226" y="516" width="4" height="5" fill="#fff"/>
<rect x="154.2" y="507.8" width="31.9" height="4.8" fill="#fff"/>
<rect x="191.1" y="507.8" width="34.4" height="4.8" fill="#fff"/>
<polygon points="232.2,507.4 229,510.2 232.2,513" fill="#fff"/>
<rect x="59" y="523" width="85" height="25" fill="#000"/>
<rect x="62" y="525" width="4" height="5.4" fill="#fff"/>
<rect x="62" y="541" width="4" height="5" fill="#fff"/>
<rect x="67.8462" y="525" width="4" height="5.4" fill="#fff"/>
<rect x="67.8462" y="541" width="4" height="5" fill="#fff"/>
<rect x="73.6923" y="525" width="4" height="5.4" fill="#fff"/>
<rect x="73.6923" y="541" width="4" height="5" fill="#fff"/>
<rect x="79.5385" y="525" width="4" height="5.4" fill="#fff"/>
<rect x="79.5385" y="541" width="4" height="5" fill="#fff"/>
<rect x="85.3846" y="525" width="4" height="5.4" fill="#fff"/>
<rect x="85.3846" y="541" width="4" height="5" fill="#fff"/>
<rect x="91.2308" y="525" width="4" height="5.4" fill="#fff"/>
<rect x="91.2308" y="541" width="4" height="5" fill="#fff"/>
<rect x="97.0769" y="525" width="4" height="5.4" fill="#fff"/>
<rect x="97.0769" y="541" width="4" height="5" fill="#fff"/>
<rect x="102.923" y="525" width="4" height="5.4" fill="#fff"/>
<rect x="102.923" y="541" width="4" height="5" fill="#fff"/>
<rect x="108.769" y="525" width="4" height="5.4" fill="#fff"/>
<rect x="108.769" y="541" width="4" height="5" fill="#fff"/>
<rect x="114.615" y="525" width="4" height="5.4" fill="#fff"/>
<rect x="114.615" y="541" width="4" height="5" fill="#fff"/>
<rect x="120.462" y="525" width="4" height="5.4" fill="#fff"/>
<rect x="120.462" y="541" width="4" height="5" fill="#fff"/>
<rect x="126.308" y="525" width="4" height="5.4" fill="#fff"/>
<rect x="126.308" y="541" width="4" height="5" fill="#fff"/>
<rect x="132.154" y="525" width="4" height="5.4" fill="#fff"/>
<rect x="132.154" y="541" width="4" height="5" fill="#fff"/>
<rect x="138" y="525" width="4" height="5.4" fill="#fff"/>
<rect x="138" y="541" width="4" height="5" fill="#fff"/>
<rect x="65" y="532.8" width="32.5" height="4.8" fill="#fff"/>
<rect x="102.5" y="532.8" width="35" height="4.8" fill="#fff"/>
<rect x="148.2" y="524" width="83.8" height="25" fill="#000"/>
<rect x="151.2" y="526" width="4" height="5.4" fill="#fff"/>
<rect x="151.2" y="542" width="4" height="5" fill="#fff"/>
<rect x="156.954" y="526" width="4" height="5.4" fill="#fff"/>
<rect x="156.954" y="542" width="4" height="5" fill="#fff"/>
<rect x="162.708" y="526" width="4" height="5.4" fill="#fff"/>
<rect x="162.708" y="542" width="4" height="5" fill="#fff"/>
<rect x="168.462" y="526" width="4" height="5.4" fill="#fff"/>
<rect x="168.462" y="542" width="4" height="5" fill="#fff"/>
<rect x="174.215" y="526" width="4" height="5.4" fill="#fff"/>
<rect x="174.215" y="542" width="4" height="5" fill="#fff"/>
<rect x="179.969" y="526" width="4" height="5.4" fill="#fff"/>
<rect x="179.969" y="542" width="4" height="5" fill="#fff"/>
<rect x="185.723" y="526" width="4" height="5.4" fill="#fff"/>
<rect x="185.723" y="542" width="4" height="5" fill="#fff"/>
<rect x="191.477" y="526" width="4" height="5.4" fill="#fff"/>
<rect x="191.477" y="542" width="4" height="5" fill="#fff"/>
<rect x="197.231" y="526" width="4" height="5.4" fill="#fff"/>
<rect x="197.231" y="542" width="4" height="5" fill="#fff"/>
<rect x="202.985" y="526" width="4" height="5.4" fill="#fff"/>
<rect x="202.985" y="542" width="4" height="5" fill="#fff"/>
<rect x="208.738" y="526" width="4" height="5.4" fill="#fff"/>
<rect x="208.738" y="542" width="4" height="5" fill="#fff"/>
<rect x="214.492" y="526" width="4" height="5.4" fill="#fff"/>
<rect x="214.492" y="542" width="4" height="5" fill="#fff"/>
<rect x="220.246" y="526" width="4" height="5.4" fill="#fff"/>
<rect x="220.246" y="542" width="4" height="5" fill="#fff"/>
<rect x="226" y="526" width="4" height="5.4" fill="#fff"/>
<rect x="226" y="542" width="4" height="5" fill="#fff"/>
<rect x="154.2" y="533.8" width="31.9" height="4.8" fill="#fff"/>
<rect x="191.1" y="533.8" width="34.4" height="4.8" fill="#fff"/>
<polygon points="232.2,533.4 229,536.2 232.2,539" fill="#fff"/>
<polygon points="232.2,428.6 229,431.4 232.2,434.2" fill="#fff"/>
<rect x="424.5" y="447.5" width="276" height="15" fill="#fff" stroke="#000" stroke-width="1"/>
<rect x="424" y="452" width="8" height="1" fill="#000"/>
<rect x="424" y="458" width="8" height="1" fill="#000"/>
<rect x="693" y="452" width="8" height="1" fill="#000"/>
<rect x="693" y="458" width="8" height="1" fill="#000"/>
<rect x="431" y="447" width="1.5" height="16" fill="#000"/>
<rect x="692.5" y="447" width="1.5" height="16" fill="#000"/>
<rect x="433.2" y="449" width="2" height="12" fill="#000"/>
<rect x="689.8" y="449" width="2" height="12" fill="#000"/>
<path d="M435.2,450.5 H444.5 V457.5 H442.5 V460.5 H435.2 M436,457.5 H439.5 V455.5 H444" fill="none" stroke="#000" stroke-width="1.2"/>
<path d="M689.8,450.5 H680.5 V457.5 H682.5 V460.5 H689.8 M689,457.5 H685.5 V455.5 H681" fill="none" stroke="#000" stroke-width="1.2"/>
<rect x="447" y="449" width="87" height="12" fill="#000"/>
<rect x="592" y="449" width="85.5" height="12" fill="#000"/>
<rect x="447" y="449" width="1" height="1" fill="#fff"/>
<rect x="676.5" y="449" width="1" height="1" fill="#fff"/>
<rect x="449.50" y="450.5" width="1.2" height="4.6" fill="#fff" shape-rendering="auto"/>
<rect x="452.14" y="450.5" width="1.2" height="4.6" fill="#fff" shape-rendering="auto"/>
<rect x="454.78" y="450.5" width="1.2" height="4.6" fill="#fff" shape-rendering="auto"/>
<rect x="457.42" y="450.5" width="1.2" height="4.6" fill="#fff" shape-rendering="auto"/>
<rect x="460.06" y="450.5" width="1.2" height="4.6" fill="#fff" shape-rendering="auto"/>
<rect x="462.70" y="450.5" width="1.2" height="4.6" fill="#fff" shape-rendering="auto"/>
<rect x="465.34" y="450.5" width="1.2" height="4.6" fill="#fff" shape-rendering="auto"/>
<rect x="467.98" y="450.5" width="1.2" height="4.6" fill="#fff" shape-rendering="auto"/>
<rect x="470.62" y="450.5" width="1.2" height="4.6" fill="#fff" shape-rendering="auto"/>
<rect x="473.26" y="450.5" width="1.2" height="4.6" fill="#fff" shape-rendering="auto"/>
<rect x="475.90" y="450.5" width="1.2" height="4.6" fill="#fff" shape-rendering="auto"/>
<rect x="478.54" y="450.5" width="1.2" height="4.6" fill="#fff" shape-rendering="auto"/>
<rect x="481.18" y="450.5" width="1.2" height="4.6" fill="#fff" shape-rendering="auto"/>
<rect x="483.82" y="450.5" width="1.2" height="4.6" fill="#fff" shape-rendering="auto"/>
<rect x="486.46" y="450.5" width="1.2" height="4.6" fill="#fff" shape-rendering="auto"/>
<rect x="489.10" y="450.5" width="1.2" height="4.6" fill="#fff" shape-rendering="auto"/>
<rect x="491.74" y="450.5" width="1.2" height="4.6" fill="#fff" shape-rendering="auto"/>
<rect x="494.38" y="450.5" width="1.2" height="4.6" fill="#fff" shape-rendering="auto"/>
<rect x="497.02" y="450.5" width="1.2" height="4.6" fill="#fff" shape-rendering="auto"/>
<rect x="504.94" y="450.5" width="1.2" height="4.6" fill="#fff" shape-rendering="auto"/>
<rect x="507.58" y="450.5" width="1.2" height="4.6" fill="#fff" shape-rendering="auto"/>
<rect x="510.22" y="450.5" width="1.2" height="4.6" fill="#fff" shape-rendering="auto"/>
<rect x="512.86" y="450.5" width="1.2" height="4.6" fill="#fff" shape-rendering="auto"/>
<rect x="515.50" y="450.5" width="1.2" height="4.6" fill="#fff" shape-rendering="auto"/>
<rect x="518.14" y="450.5" width="1.2" height="4.6" fill="#fff" shape-rendering="auto"/>
<rect x="520.78" y="450.5" width="1.2" height="4.6" fill="#fff" shape-rendering="auto"/>
<rect x="523.42" y="450.5" width="1.2" height="4.6" fill="#fff" shape-rendering="auto"/>
<rect x="526.06" y="450.5" width="1.2" height="4.6" fill="#fff" shape-rendering="auto"/>
<rect x="528.70" y="450.5" width="1.2" height="4.6" fill="#fff" shape-rendering="auto"/>
<rect x="531.34" y="450.5" width="1.2" height="4.6" fill="#fff" shape-rendering="auto"/>
<rect x="594.50" y="450.5" width="1.2" height="4.6" fill="#fff" shape-rendering="auto"/>
<rect x="597.14" y="450.5" width="1.2" height="4.6" fill="#fff" shape-rendering="auto"/>
<rect x="599.78" y="450.5" width="1.2" height="4.6" fill="#fff" shape-rendering="auto"/>
<rect x="602.42" y="450.5" width="1.2" height="4.6" fill="#fff" shape-rendering="auto"/>
<rect x="605.06" y="450.5" width="1.2" height="4.6" fill="#fff" shape-rendering="auto"/>
<rect x="607.70" y="450.5" width="1.2" height="4.6" fill="#fff" shape-rendering="auto"/>
<rect x="610.34" y="450.5" width="1.2" height="4.6" fill="#fff" shape-rendering="auto"/>
<rect x="612.98" y="450.5" width="1.2" height="4.6" fill="#fff" shape-rendering="auto"/>
<rect x="615.62" y="450.5" width="1.2" height="4.6" fill="#fff" shape-rendering="auto"/>
<rect x="618.26" y="450.5" width="1.2" height="4.6" fill="#fff" shape-rendering="auto"/>
<rect x="620.90" y="450.5" width="1.2" height="4.6" fill="#fff" shape-rendering="auto"/>
<rect x="623.54" y="450.5" width="1.2" height="4.6" fill="#fff" shape-rendering="auto"/>
<rect x="626.18" y="450.5" width="1.2" height="4.6" fill="#fff" shape-rendering="auto"/>
<rect x="628.82" y="450.5" width="1.2" height="4.6" fill="#fff" shape-rendering="auto"/>
<rect x="631.46" y="450.5" width="1.2" height="4.6" fill="#fff" shape-rendering="auto"/>
<rect x="634.10" y="450.5" width="1.2" height="4.6" fill="#fff" shape-rendering="auto"/>
<rect x="636.74" y="450.5" width="1.2" height="4.6" fill="#fff" shape-rendering="auto"/>
<rect x="639.38" y="450.5" width="1.2" height="4.6" fill="#fff" shape-rendering="auto"/>
<rect x="642.02" y="450.5" width="1.2" height="4.6" fill="#fff" shape-rendering="auto"/>
<rect x="644.66" y="450.5" width="1.2" height="4.6" fill="#fff" shape-rendering="auto"/>
<rect x="647.30" y="450.5" width="1.2" height="4.6" fill="#fff" shape-rendering="auto"/>
<rect x="652.58" y="450.5" width="1.2" height="4.6" fill="#fff" shape-rendering="auto"/>
<rect x="655.22" y="450.5" width="1.2" height="4.6" fill="#fff" shape-rendering="auto"/>
<rect x="657.86" y="450.5" width="1.2" height="4.6" fill="#fff" shape-rendering="auto"/>
<rect x="660.50" y="450.5" width="1.2" height="4.6" fill="#fff" shape-rendering="auto"/>
<rect x="663.14" y="450.5" width="1.2" height="4.6" fill="#fff" shape-rendering="auto"/>
<rect x="665.78" y="450.5" width="1.2" height="4.6" fill="#fff" shape-rendering="auto"/>
<rect x="668.42" y="450.5" width="1.2" height="4.6" fill="#fff" shape-rendering="auto"/>
<rect x="671.06" y="450.5" width="1.2" height="4.6" fill="#fff" shape-rendering="auto"/>
<rect x="673.70" y="450.5" width="1.2" height="4.6" fill="#fff" shape-rendering="auto"/>
<rect x="676.34" y="450.5" width="1.2" height="4.6" fill="#fff" shape-rendering="auto"/>
<rect x="424.5" y="472.5" width="276" height="15" fill="#fff" stroke="#000" stroke-width="1"/>
<rect x="424" y="477" width="8" height="1" fill="#000"/>
<rect x="424" y="483" width="8" height="1" fill="#000"/>
<rect x="693" y="477" width="8" height="1" fill="#000"/>
<rect x="693" y="483" width="8" height="1" fill="#000"/>
<rect x="431" y="472" width="1.5" height="16" fill="#000"/>
<rect x="692.5" y="472" width="1.5" height="16" fill="#000"/>
<rect x="433.2" y="474" width="2" height="12" fill="#000"/>
<rect x="689.8" y="474" width="2" height="12" fill="#000"/>
<path d="M435.2,475.5 H444.5 V482.5 H442.5 V485.5 H435.2 M436,482.5 H439.5 V480.5 H444" fill="none" stroke="#000" stroke-width="1.2"/>
<path d="M689.8,475.5 H680.5 V482.5 H682.5 V485.5 H689.8 M689,482.5 H685.5 V480.5 H681" fill="none" stroke="#000" stroke-width="1.2"/>
<rect x="447" y="474" width="87" height="12" fill="#000"/>
<rect x="592" y="474" width="85.5" height="12" fill="#000"/>
<rect x="447" y="474" width="1" height="1" fill="#fff"/>
<rect x="676.5" y="474" width="1" height="1" fill="#fff"/>
<rect x="449.50" y="475.5" width="1.2" height="4.6" fill="#fff" shape-rendering="auto"/>
<rect x="452.14" y="475.5" width="1.2" height="4.6" fill="#fff" shape-rendering="auto"/>
<rect x="454.78" y="475.5" width="1.2" height="4.6" fill="#fff" shape-rendering="auto"/>
<rect x="457.42" y="475.5" width="1.2" height="4.6" fill="#fff" shape-rendering="auto"/>
<rect x="460.06" y="475.5" width="1.2" height="4.6" fill="#fff" shape-rendering="auto"/>
<rect x="462.70" y="475.5" width="1.2" height="4.6" fill="#fff" shape-rendering="auto"/>
<rect x="465.34" y="475.5" width="1.2" height="4.6" fill="#fff" shape-rendering="auto"/>
<rect x="467.98" y="475.5" width="1.2" height="4.6" fill="#fff" shape-rendering="auto"/>
<rect x="470.62" y="475.5" width="1.2" height="4.6" fill="#fff" shape-rendering="auto"/>
<rect x="473.26" y="475.5" width="1.2" height="4.6" fill="#fff" shape-rendering="auto"/>
<rect x="475.90" y="475.5" width="1.2" height="4.6" fill="#fff" shape-rendering="auto"/>
<rect x="478.54" y="475.5" width="1.2" height="4.6" fill="#fff" shape-rendering="auto"/>
<rect x="481.18" y="475.5" width="1.2" height="4.6" fill="#fff" shape-rendering="auto"/>
<rect x="483.82" y="475.5" width="1.2" height="4.6" fill="#fff" shape-rendering="auto"/>
<rect x="486.46" y="475.5" width="1.2" height="4.6" fill="#fff" shape-rendering="auto"/>
<rect x="489.10" y="475.5" width="1.2" height="4.6" fill="#fff" shape-rendering="auto"/>
<rect x="491.74" y="475.5" width="1.2" height="4.6" fill="#fff" shape-rendering="auto"/>
<rect x="494.38" y="475.5" width="1.2" height="4.6" fill="#fff" shape-rendering="auto"/>
<rect x="497.02" y="475.5" width="1.2" height="4.6" fill="#fff" shape-rendering="auto"/>
<rect x="504.94" y="475.5" width="1.2" height="4.6" fill="#fff" shape-rendering="auto"/>
<rect x="507.58" y="475.5" width="1.2" height="4.6" fill="#fff" shape-rendering="auto"/>
<rect x="510.22" y="475.5" width="1.2" height="4.6" fill="#fff" shape-rendering="auto"/>
<rect x="512.86" y="475.5" width="1.2" height="4.6" fill="#fff" shape-rendering="auto"/>
<rect x="515.50" y="475.5" width="1.2" height="4.6" fill="#fff" shape-rendering="auto"/>
<rect x="518.14" y="475.5" width="1.2" height="4.6" fill="#fff" shape-rendering="auto"/>
<rect x="520.78" y="475.5" width="1.2" height="4.6" fill="#fff" shape-rendering="auto"/>
<rect x="523.42" y="475.5" width="1.2" height="4.6" fill="#fff" shape-rendering="auto"/>
<rect x="526.06" y="475.5" width="1.2" height="4.6" fill="#fff" shape-rendering="auto"/>
<rect x="528.70" y="475.5" width="1.2" height="4.6" fill="#fff" shape-rendering="auto"/>
<rect x="531.34" y="475.5" width="1.2" height="4.6" fill="#fff" shape-rendering="auto"/>
<rect x="594.50" y="475.5" width="1.2" height="4.6" fill="#fff" shape-rendering="auto"/>
<rect x="597.14" y="475.5" width="1.2" height="4.6" fill="#fff" shape-rendering="auto"/>
<rect x="599.78" y="475.5" width="1.2" height="4.6" fill="#fff" shape-rendering="auto"/>
<rect x="602.42" y="475.5" width="1.2" height="4.6" fill="#fff" shape-rendering="auto"/>
<rect x="605.06" y="475.5" width="1.2" height="4.6" fill="#fff" shape-rendering="auto"/>
<rect x="607.70" y="475.5" width="1.2" height="4.6" fill="#fff" shape-rendering="auto"/>
<rect x="610.34" y="475.5" width="1.2" height="4.6" fill="#fff" shape-rendering="auto"/>
<rect x="612.98" y="475.5" width="1.2" height="4.6" fill="#fff" shape-rendering="auto"/>
<rect x="615.62" y="475.5" width="1.2" height="4.6" fill="#fff" shape-rendering="auto"/>
<rect x="618.26" y="475.5" width="1.2" height="4.6" fill="#fff" shape-rendering="auto"/>
<rect x="620.90" y="475.5" width="1.2" height="4.6" fill="#fff" shape-rendering="auto"/>
<rect x="623.54" y="475.5" width="1.2" height="4.6" fill="#fff" shape-rendering="auto"/>
<rect x="626.18" y="475.5" width="1.2" height="4.6" fill="#fff" shape-rendering="auto"/>
<rect x="628.82" y="475.5" width="1.2" height="4.6" fill="#fff" shape-rendering="auto"/>
<rect x="631.46" y="475.5" width="1.2" height="4.6" fill="#fff" shape-rendering="auto"/>
<rect x="634.10" y="475.5" width="1.2" height="4.6" fill="#fff" shape-rendering="auto"/>
<rect x="636.74" y="475.5" width="1.2" height="4.6" fill="#fff" shape-rendering="auto"/>
<rect x="639.38" y="475.5" width="1.2" height="4.6" fill="#fff" shape-rendering="auto"/>
<rect x="642.02" y="475.5" width="1.2" height="4.6" fill="#fff" shape-rendering="auto"/>
<rect x="644.66" y="475.5" width="1.2" height="4.6" fill="#fff" shape-rendering="auto"/>
<rect x="647.30" y="475.5" width="1.2" height="4.6" fill="#fff" shape-rendering="auto"/>
<rect x="652.58" y="475.5" width="1.2" height="4.6" fill="#fff" shape-rendering="auto"/>
<rect x="655.22" y="475.5" width="1.2" height="4.6" fill="#fff" shape-rendering="auto"/>
<rect x="657.86" y="475.5" width="1.2" height="4.6" fill="#fff" shape-rendering="auto"/>
<rect x="660.50" y="475.5" width="1.2" height="4.6" fill="#fff" shape-rendering="auto"/>
<rect x="663.14" y="475.5" width="1.2" height="4.6" fill="#fff" shape-rendering="auto"/>
<rect x="665.78" y="475.5" width="1.2" height="4.6" fill="#fff" shape-rendering="auto"/>
<rect x="668.42" y="475.5" width="1.2" height="4.6" fill="#fff" shape-rendering="auto"/>
<rect x="671.06" y="475.5" width="1.2" height="4.6" fill="#fff" shape-rendering="auto"/>
<rect x="673.70" y="475.5" width="1.2" height="4.6" fill="#fff" shape-rendering="auto"/>
<rect x="676.34" y="475.5" width="1.2" height="4.6" fill="#fff" shape-rendering="auto"/>
<rect x="424.5" y="495.5" width="276" height="15" fill="#fff" stroke="#000" stroke-width="1"/>
<rect x="424" y="500" width="8" height="1" fill="#000"/>
<rect x="424" y="506" width="8" height="1" fill="#000"/>
<rect x="693" y="500" width="8" height="1" fill="#000"/>
<rect x="693" y="506" width="8" height="1" fill="#000"/>
<rect x="431" y="495" width="1.5" height="16" fill="#000"/>
<rect x="692.5" y="495" width="1.5" height="16" fill="#000"/>
<rect x="433.2" y="497" width="2" height="12" fill="#000"/>
<rect x="689.8" y="497" width="2" height="12" fill="#000"/>
<path d="M435.2,498.5 H444.5 V505.5 H442.5 V508.5 H435.2 M436,505.5 H439.5 V503.5 H444" fill="none" stroke="#000" stroke-width="1.2"/>
<path d="M689.8,498.5 H680.5 V505.5 H682.5 V508.5 H689.8 M689,505.5 H685.5 V503.5 H681" fill="none" stroke="#000" stroke-width="1.2"/>
<rect x="447" y="497" width="87" height="12" fill="#000"/>
<rect x="592" y="497" width="85.5" height="12" fill="#000"/>
<rect x="447" y="497" width="1" height="1" fill="#fff"/>
<rect x="676.5" y="497" width="1" height="1" fill="#fff"/>
<rect x="449.50" y="498.5" width="1.2" height="4.6" fill="#fff" shape-rendering="auto"/>
<rect x="452.14" y="498.5" width="1.2" height="4.6" fill="#fff" shape-rendering="auto"/>
<rect x="454.78" y="498.5" width="1.2" height="4.6" fill="#fff" shape-rendering="auto"/>
<rect x="457.42" y="498.5" width="1.2" height="4.6" fill="#fff" shape-rendering="auto"/>
<rect x="460.06" y="498.5" width="1.2" height="4.6" fill="#fff" shape-rendering="auto"/>
<rect x="462.70" y="498.5" width="1.2" height="4.6" fill="#fff" shape-rendering="auto"/>
<rect x="465.34" y="498.5" width="1.2" height="4.6" fill="#fff" shape-rendering="auto"/>
<rect x="467.98" y="498.5" width="1.2" height="4.6" fill="#fff" shape-rendering="auto"/>
<rect x="470.62" y="498.5" width="1.2" height="4.6" fill="#fff" shape-rendering="auto"/>
<rect x="473.26" y="498.5" width="1.2" height="4.6" fill="#fff" shape-rendering="auto"/>
<rect x="475.90" y="498.5" width="1.2" height="4.6" fill="#fff" shape-rendering="auto"/>
<rect x="478.54" y="498.5" width="1.2" height="4.6" fill="#fff" shape-rendering="auto"/>
<rect x="481.18" y="498.5" width="1.2" height="4.6" fill="#fff" shape-rendering="auto"/>
<rect x="483.82" y="498.5" width="1.2" height="4.6" fill="#fff" shape-rendering="auto"/>
<rect x="486.46" y="498.5" width="1.2" height="4.6" fill="#fff" shape-rendering="auto"/>
<rect x="489.10" y="498.5" width="1.2" height="4.6" fill="#fff" shape-rendering="auto"/>
<rect x="491.74" y="498.5" width="1.2" height="4.6" fill="#fff" shape-rendering="auto"/>
<rect x="494.38" y="498.5" width="1.2" height="4.6" fill="#fff" shape-rendering="auto"/>
<rect x="497.02" y="498.5" width="1.2" height="4.6" fill="#fff" shape-rendering="auto"/>
<rect x="504.94" y="498.5" width="1.2" height="4.6" fill="#fff" shape-rendering="auto"/>
<rect x="507.58" y="498.5" width="1.2" height="4.6" fill="#fff" shape-rendering="auto"/>
<rect x="510.22" y="498.5" width="1.2" height="4.6" fill="#fff" shape-rendering="auto"/>
<rect x="512.86" y="498.5" width="1.2" height="4.6" fill="#fff" shape-rendering="auto"/>
<rect x="515.50" y="498.5" width="1.2" height="4.6" fill="#fff" shape-rendering="auto"/>
<rect x="518.14" y="498.5" width="1.2" height="4.6" fill="#fff" shape-rendering="auto"/>
<rect x="520.78" y="498.5" width="1.2" height="4.6" fill="#fff" shape-rendering="auto"/>
<rect x="523.42" y="498.5" width="1.2" height="4.6" fill="#fff" shape-rendering="auto"/>
<rect x="526.06" y="498.5" width="1.2" height="4.6" fill="#fff" shape-rendering="auto"/>
<rect x="528.70" y="498.5" width="1.2" height="4.6" fill="#fff" shape-rendering="auto"/>
<rect x="531.34" y="498.5" width="1.2" height="4.6" fill="#fff" shape-rendering="auto"/>
<rect x="594.50" y="498.5" width="1.2" height="4.6" fill="#fff" shape-rendering="auto"/>
<rect x="597.14" y="498.5" width="1.2" height="4.6" fill="#fff" shape-rendering="auto"/>
<rect x="599.78" y="498.5" width="1.2" height="4.6" fill="#fff" shape-rendering="auto"/>
<rect x="602.42" y="498.5" width="1.2" height="4.6" fill="#fff" shape-rendering="auto"/>
<rect x="605.06" y="498.5" width="1.2" height="4.6" fill="#fff" shape-rendering="auto"/>
<rect x="607.70" y="498.5" width="1.2" height="4.6" fill="#fff" shape-rendering="auto"/>
<rect x="610.34" y="498.5" width="1.2" height="4.6" fill="#fff" shape-rendering="auto"/>
<rect x="612.98" y="498.5" width="1.2" height="4.6" fill="#fff" shape-rendering="auto"/>
<rect x="615.62" y="498.5" width="1.2" height="4.6" fill="#fff" shape-rendering="auto"/>
<rect x="618.26" y="498.5" width="1.2" height="4.6" fill="#fff" shape-rendering="auto"/>
<rect x="620.90" y="498.5" width="1.2" height="4.6" fill="#fff" shape-rendering="auto"/>
<rect x="623.54" y="498.5" width="1.2" height="4.6" fill="#fff" shape-rendering="auto"/>
<rect x="626.18" y="498.5" width="1.2" height="4.6" fill="#fff" shape-rendering="auto"/>
<rect x="628.82" y="498.5" width="1.2" height="4.6" fill="#fff" shape-rendering="auto"/>
<rect x="631.46" y="498.5" width="1.2" height="4.6" fill="#fff" shape-rendering="auto"/>
<rect x="634.10" y="498.5" width="1.2" height="4.6" fill="#fff" shape-rendering="auto"/>
<rect x="636.74" y="498.5" width="1.2" height="4.6" fill="#fff" shape-rendering="auto"/>
<rect x="639.38" y="498.5" width="1.2" height="4.6" fill="#fff" shape-rendering="auto"/>
<rect x="642.02" y="498.5" width="1.2" height="4.6" fill="#fff" shape-rendering="auto"/>
<rect x="644.66" y="498.5" width="1.2" height="4.6" fill="#fff" shape-rendering="auto"/>
<rect x="647.30" y="498.5" width="1.2" height="4.6" fill="#fff" shape-rendering="auto"/>
<rect x="652.58" y="498.5" width="1.2" height="4.6" fill="#fff" shape-rendering="auto"/>
<rect x="655.22" y="498.5" width="1.2" height="4.6" fill="#fff" shape-rendering="auto"/>
<rect x="657.86" y="498.5" width="1.2" height="4.6" fill="#fff" shape-rendering="auto"/>
<rect x="660.50" y="498.5" width="1.2" height="4.6" fill="#fff" shape-rendering="auto"/>
<rect x="663.14" y="498.5" width="1.2" height="4.6" fill="#fff" shape-rendering="auto"/>
<rect x="665.78" y="498.5" width="1.2" height="4.6" fill="#fff" shape-rendering="auto"/>
<rect x="668.42" y="498.5" width="1.2" height="4.6" fill="#fff" shape-rendering="auto"/>
<rect x="671.06" y="498.5" width="1.2" height="4.6" fill="#fff" shape-rendering="auto"/>
<rect x="673.70" y="498.5" width="1.2" height="4.6" fill="#fff" shape-rendering="auto"/>
<rect x="676.34" y="498.5" width="1.2" height="4.6" fill="#fff" shape-rendering="auto"/>
<rect x="424.5" y="517.5" width="276" height="15" fill="#fff" stroke="#000" stroke-width="1"/>
<rect x="424" y="522" width="8" height="1" fill="#000"/>
<rect x="424" y="528" width="8" height="1" fill="#000"/>
<rect x="693" y="522" width="8" height="1" fill="#000"/>
<rect x="693" y="528" width="8" height="1" fill="#000"/>
<rect x="431" y="517" width="1.5" height="16" fill="#000"/>
<rect x="692.5" y="517" width="1.5" height="16" fill="#000"/>
<rect x="433.2" y="519" width="2" height="12" fill="#000"/>
<rect x="689.8" y="519" width="2" height="12" fill="#000"/>
<path d="M435.2,520.5 H444.5 V527.5 H442.5 V530.5 H435.2 M436,527.5 H439.5 V525.5 H444" fill="none" stroke="#000" stroke-width="1.2"/>
<path d="M689.8,520.5 H680.5 V527.5 H682.5 V530.5 H689.8 M689,527.5 H685.5 V525.5 H681" fill="none" stroke="#000" stroke-width="1.2"/>
<rect x="447" y="519" width="87" height="12" fill="#000"/>
<rect x="592" y="519" width="85.5" height="12" fill="#000"/>
<rect x="447" y="519" width="1" height="1" fill="#fff"/>
<rect x="676.5" y="519" width="1" height="1" fill="#fff"/>
<rect x="449.50" y="520.5" width="1.2" height="4.6" fill="#fff" shape-rendering="auto"/>
<rect x="452.14" y="520.5" width="1.2" height="4.6" fill="#fff" shape-rendering="auto"/>
<rect x="454.78" y="520.5" width="1.2" height="4.6" fill="#fff" shape-rendering="auto"/>
<rect x="457.42" y="520.5" width="1.2" height="4.6" fill="#fff" shape-rendering="auto"/>
<rect x="460.06" y="520.5" width="1.2" height="4.6" fill="#fff" shape-rendering="auto"/>
<rect x="462.70" y="520.5" width="1.2" height="4.6" fill="#fff" shape-rendering="auto"/>
<rect x="465.34" y="520.5" width="1.2" height="4.6" fill="#fff" shape-rendering="auto"/>
<rect x="467.98" y="520.5" width="1.2" height="4.6" fill="#fff" shape-rendering="auto"/>
<rect x="470.62" y="520.5" width="1.2" height="4.6" fill="#fff" shape-rendering="auto"/>
<rect x="473.26" y="520.5" width="1.2" height="4.6" fill="#fff" shape-rendering="auto"/>
<rect x="475.90" y="520.5" width="1.2" height="4.6" fill="#fff" shape-rendering="auto"/>
<rect x="478.54" y="520.5" width="1.2" height="4.6" fill="#fff" shape-rendering="auto"/>
<rect x="481.18" y="520.5" width="1.2" height="4.6" fill="#fff" shape-rendering="auto"/>
<rect x="483.82" y="520.5" width="1.2" height="4.6" fill="#fff" shape-rendering="auto"/>
<rect x="486.46" y="520.5" width="1.2" height="4.6" fill="#fff" shape-rendering="auto"/>
<rect x="489.10" y="520.5" width="1.2" height="4.6" fill="#fff" shape-rendering="auto"/>
<rect x="491.74" y="520.5" width="1.2" height="4.6" fill="#fff" shape-rendering="auto"/>
<rect x="494.38" y="520.5" width="1.2" height="4.6" fill="#fff" shape-rendering="auto"/>
<rect x="497.02" y="520.5" width="1.2" height="4.6" fill="#fff" shape-rendering="auto"/>
<rect x="504.94" y="520.5" width="1.2" height="4.6" fill="#fff" shape-rendering="auto"/>
<rect x="507.58" y="520.5" width="1.2" height="4.6" fill="#fff" shape-rendering="auto"/>
<rect x="510.22" y="520.5" width="1.2" height="4.6" fill="#fff" shape-rendering="auto"/>
<rect x="512.86" y="520.5" width="1.2" height="4.6" fill="#fff" shape-rendering="auto"/>
<rect x="515.50" y="520.5" width="1.2" height="4.6" fill="#fff" shape-rendering="auto"/>
<rect x="518.14" y="520.5" width="1.2" height="4.6" fill="#fff" shape-rendering="auto"/>
<rect x="520.78" y="520.5" width="1.2" height="4.6" fill="#fff" shape-rendering="auto"/>
<rect x="523.42" y="520.5" width="1.2" height="4.6" fill="#fff" shape-rendering="auto"/>
<rect x="526.06" y="520.5" width="1.2" height="4.6" fill="#fff" shape-rendering="auto"/>
<rect x="528.70" y="520.5" width="1.2" height="4.6" fill="#fff" shape-rendering="auto"/>
<rect x="531.34" y="520.5" width="1.2" height="4.6" fill="#fff" shape-rendering="auto"/>
<rect x="594.50" y="520.5" width="1.2" height="4.6" fill="#fff" shape-rendering="auto"/>
<rect x="597.14" y="520.5" width="1.2" height="4.6" fill="#fff" shape-rendering="auto"/>
<rect x="599.78" y="520.5" width="1.2" height="4.6" fill="#fff" shape-rendering="auto"/>
<rect x="602.42" y="520.5" width="1.2" height="4.6" fill="#fff" shape-rendering="auto"/>
<rect x="605.06" y="520.5" width="1.2" height="4.6" fill="#fff" shape-rendering="auto"/>
<rect x="607.70" y="520.5" width="1.2" height="4.6" fill="#fff" shape-rendering="auto"/>
<rect x="610.34" y="520.5" width="1.2" height="4.6" fill="#fff" shape-rendering="auto"/>
<rect x="612.98" y="520.5" width="1.2" height="4.6" fill="#fff" shape-rendering="auto"/>
<rect x="615.62" y="520.5" width="1.2" height="4.6" fill="#fff" shape-rendering="auto"/>
<rect x="618.26" y="520.5" width="1.2" height="4.6" fill="#fff" shape-rendering="auto"/>
<rect x="620.90" y="520.5" width="1.2" height="4.6" fill="#fff" shape-rendering="auto"/>
<rect x="623.54" y="520.5" width="1.2" height="4.6" fill="#fff" shape-rendering="auto"/>
<rect x="626.18" y="520.5" width="1.2" height="4.6" fill="#fff" shape-rendering="auto"/>
<rect x="628.82" y="520.5" width="1.2" height="4.6" fill="#fff" shape-rendering="auto"/>
<rect x="631.46" y="520.5" width="1.2" height="4.6" fill="#fff" shape-rendering="auto"/>
<rect x="634.10" y="520.5" width="1.2" height="4.6" fill="#fff" shape-rendering="auto"/>
<rect x="636.74" y="520.5" width="1.2" height="4.6" fill="#fff" shape-rendering="auto"/>
<rect x="639.38" y="520.5" width="1.2" height="4.6" fill="#fff" shape-rendering="auto"/>
<rect x="642.02" y="520.5" width="1.2" height="4.6" fill="#fff" shape-rendering="auto"/>
<rect x="644.66" y="520.5" width="1.2" height="4.6" fill="#fff" shape-rendering="auto"/>
<rect x="647.30" y="520.5" width="1.2" height="4.6" fill="#fff" shape-rendering="auto"/>
<rect x="652.58" y="520.5" width="1.2" height="4.6" fill="#fff" shape-rendering="auto"/>
<rect x="655.22" y="520.5" width="1.2" height="4.6" fill="#fff" shape-rendering="auto"/>
<rect x="657.86" y="520.5" width="1.2" height="4.6" fill="#fff" shape-rendering="auto"/>
<rect x="660.50" y="520.5" width="1.2" height="4.6" fill="#fff" shape-rendering="auto"/>
<rect x="663.14" y="520.5" width="1.2" height="4.6" fill="#fff" shape-rendering="auto"/>
<rect x="665.78" y="520.5" width="1.2" height="4.6" fill="#fff" shape-rendering="auto"/>
<rect x="668.42" y="520.5" width="1.2" height="4.6" fill="#fff" shape-rendering="auto"/>
<rect x="671.06" y="520.5" width="1.2" height="4.6" fill="#fff" shape-rendering="auto"/>
<rect x="673.70" y="520.5" width="1.2" height="4.6" fill="#fff" shape-rendering="auto"/>
<rect x="676.34" y="520.5" width="1.2" height="4.6" fill="#fff" shape-rendering="auto"/>
<rect x="699" y="317" width="12" height="118.6" fill="#000"/>
<rect x="704.5" y="318" width="1" height="116.6" fill="#fff"/>
<rect x="700" y="322.88" width="10" height="1" fill="#fff"/>
<rect x="700" y="328.76" width="10" height="1" fill="#fff"/>
<rect x="700" y="334.64" width="10" height="1" fill="#fff"/>
<rect x="700" y="340.52" width="10" height="1" fill="#fff"/>
<rect x="700" y="346.4" width="10" height="1" fill="#fff"/>
<rect x="700" y="352.28" width="10" height="1" fill="#fff"/>
<rect x="700" y="358.16" width="10" height="1" fill="#fff"/>
<rect x="700" y="364.04" width="10" height="1" fill="#fff"/>
<rect x="700" y="369.92" width="10" height="1" fill="#fff"/>
<rect x="700" y="375.8" width="10" height="1" fill="#fff"/>
<rect x="700" y="381.68" width="10" height="1" fill="#fff"/>
<rect x="700" y="387.56" width="10" height="1" fill="#fff"/>
<rect x="700" y="393.44" width="10" height="1" fill="#fff"/>
<rect x="700" y="399.32" width="10" height="1" fill="#fff"/>
<rect x="700" y="405.2" width="10" height="1" fill="#fff"/>
<rect x="700" y="411.08" width="10" height="1" fill="#fff"/>
<rect x="700" y="416.96" width="10" height="1" fill="#fff"/>
<rect x="700" y="422.84" width="10" height="1" fill="#fff"/>
<rect x="700" y="428.72" width="10" height="1" fill="#fff"/>
<rect x="700" y="318" width="10" height="1" fill="#fff"/>
<rect x="701" y="319.5" width="3" height="2.5" fill="#fff"/>
<rect x="717" y="318" width="12" height="99.6" fill="#000"/>
<rect x="722.5" y="319" width="1" height="97.6" fill="#fff"/>
<rect x="718" y="323.8" width="10" height="1" fill="#fff"/>
<rect x="718" y="329.6" width="10" height="1" fill="#fff"/>
<rect x="718" y="335.4" width="10" height="1" fill="#fff"/>
<rect x="718" y="341.2" width="10" height="1" fill="#fff"/>
<rect x="718" y="347" width="10" height="1" fill="#fff"/>
<rect x="718" y="352.8" width="10" height="1" fill="#fff"/>
<rect x="718" y="358.6" width="10" height="1" fill="#fff"/>
<rect x="718" y="364.4" width="10" height="1" fill="#fff"/>
<rect x="718" y="370.2" width="10" height="1" fill="#fff"/>
<rect x="718" y="376" width="10" height="1" fill="#fff"/>
<rect x="718" y="381.8" width="10" height="1" fill="#fff"/>
<rect x="718" y="387.6" width="10" height="1" fill="#fff"/>
<rect x="718" y="393.4" width="10" height="1" fill="#fff"/>
<rect x="718" y="399.2" width="10" height="1" fill="#fff"/>
<rect x="718" y="405" width="10" height="1" fill="#fff"/>
<rect x="718" y="410.8" width="10" height="1" fill="#fff"/>
<rect x="718" y="319" width="10" height="1" fill="#fff"/>
<rect x="719" y="320.5" width="3" height="2.5" fill="#fff"/>
<rect x="755" y="383" width="13" height="30.5" fill="#000"/>
<rect x="756" y="384" width="11" height="28.5" fill="#fff"/>
<rect x="756" y="384.8" width="4" height="3.9" fill="#000"/>
<rect x="762" y="384.8" width="4" height="3.9" fill="#000"/>
<rect x="756" y="390.7" width="4" height="3.9" fill="#000"/>
<rect x="762" y="390.7" width="4" height="3.9" fill="#000"/>
<rect x="756" y="396.6" width="4" height="3.9" fill="#000"/>
<rect x="762" y="396.6" width="4" height="3.9" fill="#000"/>
<rect x="756" y="402.5" width="4" height="3.9" fill="#000"/>
<rect x="762" y="402.5" width="4" height="3.9" fill="#000"/>
<rect x="756" y="408.4" width="4" height="3.9" fill="#000"/>
<rect x="762" y="408.4" width="4" height="3.9" fill="#000"/>
<rect x="757" y="386" width="2" height="2" fill="#fff"/>
<rect x="777" y="383" width="13" height="30.5" fill="#000"/>
<rect x="783" y="384" width="1" height="28.5" fill="#fff"/>
<rect x="778" y="388.9" width="11" height="1" fill="#fff"/>
<rect x="778" y="394.8" width="11" height="1" fill="#fff"/>
<rect x="778" y="400.7" width="11" height="1" fill="#fff"/>
<rect x="778" y="406.6" width="11" height="1" fill="#fff"/>
<rect x="778" y="384" width="11" height="1" fill="#fff"/>
<rect x="779" y="385.5" width="3" height="2.5" fill="#fff"/>
<rect x="756" y="462" width="13" height="47.8" fill="#000"/>
<rect x="762" y="463" width="1" height="45.8" fill="#fff"/>
<rect x="757" y="467.85" width="11" height="1" fill="#fff"/>
<rect x="757" y="473.7" width="11" height="1" fill="#fff"/>
<rect x="757" y="479.55" width="11" height="1" fill="#fff"/>
<rect x="757" y="485.4" width="11" height="1" fill="#fff"/>
<rect x="757" y="491.25" width="11" height="1" fill="#fff"/>
<rect x="757" y="497.1" width="11" height="1" fill="#fff"/>
<rect x="757" y="502.95" width="11" height="1" fill="#fff"/>
<rect x="758" y="464.5" width="3" height="2.5" fill="#fff"/>
<rect x="716.5" y="427.5" width="24" height="112" fill="#fff" stroke="#000"/>
<rect x="724" y="428" width="1" height="111" fill="#000"/>
<rect x="730.7" y="433.8" width="6.5" height="6" fill="#fff" stroke="#000" stroke-width="1.1" shape-rendering="auto"/>
<rect x="720.5" y="429.5" width="2.5" height="6.2" fill="#fff" stroke="#000" shape-rendering="auto"/>
<rect x="727" y="429.0" width="2" height="7.4" fill="#000" shape-rendering="auto"/>
<rect x="730.7" y="443.2" width="6.5" height="6" fill="#fff" stroke="#000" stroke-width="1.1" shape-rendering="auto"/>
<rect x="720.5" y="438.9" width="2.5" height="6.2" fill="#fff" stroke="#000" shape-rendering="auto"/>
<rect x="727" y="438.4" width="2" height="7.4" fill="#000" shape-rendering="auto"/>
<rect x="730.7" y="452.6" width="6.5" height="6" fill="#fff" stroke="#000" stroke-width="1.1" shape-rendering="auto"/>
<rect x="720.5" y="448.3" width="2.5" height="6.2" fill="#fff" stroke="#000" shape-rendering="auto"/>
<rect x="727" y="447.8" width="2" height="7.4" fill="#000" shape-rendering="auto"/>
<rect x="730.7" y="462.1" width="6.5" height="6" fill="#fff" stroke="#000" stroke-width="1.1" shape-rendering="auto"/>
<rect x="720.5" y="457.8" width="2.5" height="6.2" fill="#fff" stroke="#000" shape-rendering="auto"/>
<rect x="727" y="457.3" width="2" height="7.4" fill="#000" shape-rendering="auto"/>
<rect x="730.7" y="471.5" width="6.5" height="6" fill="#fff" stroke="#000" stroke-width="1.1" shape-rendering="auto"/>
<rect x="720.5" y="467.2" width="2.5" height="6.2" fill="#fff" stroke="#000" shape-rendering="auto"/>
<rect x="727" y="466.7" width="2" height="7.4" fill="#000" shape-rendering="auto"/>
<rect x="730.7" y="480.9" width="6.5" height="6" fill="#fff" stroke="#000" stroke-width="1.1" shape-rendering="auto"/>
<rect x="720.5" y="476.6" width="2.5" height="6.2" fill="#fff" stroke="#000" shape-rendering="auto"/>
<rect x="727" y="476.1" width="2" height="7.4" fill="#000" shape-rendering="auto"/>
<rect x="730.7" y="490.3" width="6.5" height="6" fill="#fff" stroke="#000" stroke-width="1.1" shape-rendering="auto"/>
<rect x="720.5" y="486.0" width="2.5" height="6.2" fill="#fff" stroke="#000" shape-rendering="auto"/>
<rect x="727" y="485.5" width="2" height="7.4" fill="#000" shape-rendering="auto"/>
<rect x="730.7" y="499.7" width="6.5" height="6" fill="#fff" stroke="#000" stroke-width="1.1" shape-rendering="auto"/>
<rect x="720.5" y="495.4" width="2.5" height="6.2" fill="#fff" stroke="#000" shape-rendering="auto"/>
<rect x="727" y="494.9" width="2" height="7.4" fill="#000" shape-rendering="auto"/>
<rect x="730.7" y="509.2" width="6.5" height="6" fill="#fff" stroke="#000" stroke-width="1.1" shape-rendering="auto"/>
<rect x="720.5" y="504.9" width="2.5" height="6.2" fill="#fff" stroke="#000" shape-rendering="auto"/>
<rect x="727" y="504.4" width="2" height="7.4" fill="#000" shape-rendering="auto"/>
<rect x="730.7" y="518.6" width="6.5" height="6" fill="#fff" stroke="#000" stroke-width="1.1" shape-rendering="auto"/>
<rect x="720.5" y="514.3" width="2.5" height="6.2" fill="#fff" stroke="#000" shape-rendering="auto"/>
<rect x="727" y="513.8" width="2" height="7.4" fill="#000" shape-rendering="auto"/>
<rect x="730.7" y="528.0" width="6.5" height="6" fill="#fff" stroke="#000" stroke-width="1.1" shape-rendering="auto"/>
<rect x="720.5" y="523.7" width="2.5" height="6.2" fill="#fff" stroke="#000" shape-rendering="auto"/>
<rect x="727" y="523.2" width="2" height="7.4" fill="#000" shape-rendering="auto"/>
<rect x="720.5" y="533.1" width="2.5" height="6.2" fill="#fff" stroke="#000" shape-rendering="auto"/>
<rect x="727" y="532.6" width="2" height="7.4" fill="#000" shape-rendering="auto"/>
<path d="M731.5,427.5 V430 H733.5 V428.5 H735.5 V430 H737.5 V427.5" fill="#fff" stroke="#000"/>
<path d="M731.5,539.5 V537 H733.5 V538.5 H735.5 V537 H737.5 V539.5" fill="#fff" stroke="#000"/>
<path d="M802,452 H823 V449 H826 V446 H831 V496 H826 V492 H823 V488.4 H802 V482 H799 V458 H802 Z" fill="#000"/>
<rect x="795.5" y="460.5" width="4" height="8" fill="#fff" stroke="#000"/>
<rect x="795.5" y="472.5" width="4" height="8" fill="#fff" stroke="#000"/>
<rect x="322.5" y="50.5" width="20.5" height="12" rx="2.5" fill="#fff" stroke="#000" stroke-width="1" shape-rendering="auto"/>
<text transform="translate(333.25 61.3) scale(0.8 1)" font-size="13.5" text-anchor="middle" textLength="18.125" lengthAdjust="spacing" stroke="#000" stroke-width="0.15">S1</text>
<rect x="323" y="95.5" width="21" height="12.4" rx="2.5" fill="#fff" stroke="#000" stroke-width="1" shape-rendering="auto"/>
<text transform="translate(334 106.5) scale(0.8 1)" font-size="13.5" text-anchor="middle" textLength="18.75" lengthAdjust="spacing" stroke="#000" stroke-width="0.15">S2</text>
<rect x="102.5" y="98.5" width="40" height="13.6" rx="2.5" fill="#fff" stroke="#000" stroke-width="1" shape-rendering="auto"/>
<text transform="translate(123 110.1) scale(0.8 1)" font-size="13.5" text-anchor="middle" textLength="38.125" lengthAdjust="spacing" stroke="#000" stroke-width="0.15">BIOS</text>
<rect x="127.9" y="144.9" width="27.6" height="13.2" rx="2.5" fill="#fff" stroke="#000" stroke-width="1" shape-rendering="auto"/>
<text transform="translate(142.2 156.3) scale(0.8 1)" font-size="13.5" text-anchor="middle" textLength="32.375" lengthAdjust="spacing" stroke="#000" stroke-width="0.15">KBD</text>
<polygon points="61.0,21.6 64.5,30.6 68.0,21.6" fill="#fff" stroke="#000" stroke-width="3" stroke-linejoin="round"/>
<polygon points="62.6,28.6 64.5,41 66.4,28.6" fill="#000" stroke="#000" stroke-width="0.8"/>
<rect x="53" y="8" width="25" height="16.6" rx="2.8" fill="#000" shape-rendering="auto"/>
<rect x="54.5" y="9.5" width="21" height="12.6" rx="1.4" fill="#fff" shape-rendering="auto"/>
<polygon points="61.0,21.6 64.5,30.6 68.0,21.6" fill="#fff"/>
<text transform="translate(65.9 20.6) scale(0.8 1)" font-size="13.5" text-anchor="middle" letter-spacing="2.375" stroke="#000" stroke-width="0.15">P1</text>
<polygon points="40.5,69.9 49.5,73.4 40.5,76.9" fill="#fff" stroke="#000" stroke-width="3" stroke-linejoin="round"/>
<polygon points="47.5,75.3 57.5,73.4 47.5,71.5" fill="#000" stroke="#000" stroke-width="0.8"/>
<rect x="7" y="64" width="36.5" height="19" rx="2.8" fill="#000" shape-rendering="auto"/>
<rect x="8.5" y="65.5" width="32.5" height="15" rx="1.4" fill="#fff" shape-rendering="auto"/>
<polygon points="40.5,69.9 49.5,73.4 40.5,76.9" fill="#fff"/>
<text transform="translate(25.65 77.8) scale(0.8 1)" font-size="13.5" text-anchor="middle" letter-spacing="2.375" stroke="#000" stroke-width="0.15">P18</text>
<polygon points="40.5,104.1 49.5,107.6 40.5,111.1" fill="#fff" stroke="#000" stroke-width="3" stroke-linejoin="round"/>
<polygon points="47.5,109.5 59.5,107.6 47.5,105.7" fill="#000" stroke="#000" stroke-width="0.8"/>
<rect x="8" y="99" width="35.5" height="18" rx="2.8" fill="#000" shape-rendering="auto"/>
<rect x="9.5" y="100.5" width="31.5" height="14" rx="1.4" fill="#fff" shape-rendering="auto"/>
<polygon points="40.5,104.1 49.5,107.6 40.5,111.1" fill="#fff"/>
<text transform="translate(26.15 112.3) scale(0.8 1)" font-size="13.5" text-anchor="middle" letter-spacing="2.375" stroke="#000" stroke-width="0.15">P19</text>
<polygon points="42.5,154.5 51.5,158.0 42.5,161.5" fill="#fff" stroke="#000" stroke-width="3" stroke-linejoin="round"/>
<polygon points="49.5,159.9 59.5,158 49.5,156.1" fill="#000" stroke="#000" stroke-width="0.8"/>
<rect x="9.6" y="149" width="35.9" height="18.6" rx="2.8" fill="#000" shape-rendering="auto"/>
<rect x="11.1" y="150.5" width="31.9" height="14.6" rx="1.4" fill="#fff" shape-rendering="auto"/>
<polygon points="42.5,154.5 51.5,158.0 42.5,161.5" fill="#fff"/>
<text transform="translate(27.95 162.6) scale(0.8 1)" font-size="13.5" text-anchor="middle" letter-spacing="2.375" stroke="#000" stroke-width="0.15">P20</text>
<polygon points="41.0,176.1 50.0,179.6 41.0,183.1" fill="#fff" stroke="#000" stroke-width="3" stroke-linejoin="round"/>
<polygon points="48.0,181.5 59.5,179.6 48.0,177.7" fill="#000" stroke="#000" stroke-width="0.8"/>
<rect x="8" y="171.6" width="36" height="18" rx="2.8" fill="#000" shape-rendering="auto"/>
<rect x="9.5" y="173.1" width="32" height="14" rx="1.4" fill="#fff" shape-rendering="auto"/>
<polygon points="41.0,176.1 50.0,179.6 41.0,183.1" fill="#fff"/>
<text transform="translate(26.4 184.9) scale(0.8 1)" font-size="13.5" text-anchor="middle" letter-spacing="2.375" stroke="#000" stroke-width="0.15">P21</text>
<polygon points="61.5,227.6 65.0,218.6 68.5,227.6" fill="#fff" stroke="#000" stroke-width="3" stroke-linejoin="round"/>
<polygon points="66.9,220.6 65,208 63.1,220.6" fill="#000" stroke="#000" stroke-width="0.8"/>
<rect x="47.4" y="225.6" width="33" height="17.8" rx="2.8" fill="#000" shape-rendering="auto"/>
<rect x="48.9" y="227.1" width="29" height="13.8" rx="1.4" fill="#fff" shape-rendering="auto"/>
<polygon points="61.5,227.6 65.0,218.6 68.5,227.6" fill="#fff"/>
<text transform="translate(64.3 238.8) scale(0.8 1)" font-size="13.5" text-anchor="middle" letter-spacing="2.375" stroke="#000" stroke-width="0.15">P23</text>
<polygon points="162.2,36.0 172.0,54.0 167.8,36.0" fill="#fff" stroke="#000" stroke-width="3" stroke-linejoin="round"/>
<rect x="137" y="22" width="33.4" height="17" rx="2.8" fill="#000" shape-rendering="auto"/>
<rect x="138.5" y="23.5" width="29.4" height="13" rx="1.4" fill="#fff" shape-rendering="auto"/>
<polygon points="162.2,36.0 172.0,54.0 167.8,36.0" fill="#fff"/>
<text transform="translate(154.1 34.8) scale(0.8 1)" font-size="13.5" text-anchor="middle" letter-spacing="2.375" stroke="#000" stroke-width="0.15">J23</text>
<polygon points="190.5,34.8 194.0,43.8 197.5,34.8" fill="#fff" stroke="#000" stroke-width="3" stroke-linejoin="round"/>
<polygon points="192.1,41.8 194,54 195.9,41.8" fill="#000" stroke="#000" stroke-width="0.8"/>
<rect x="179" y="20.4" width="33" height="17.4" rx="2.8" fill="#000" shape-rendering="auto"/>
<rect x="180.5" y="21.9" width="29" height="13.4" rx="1.4" fill="#fff" shape-rendering="auto"/>
<polygon points="190.5,34.8 194.0,43.8 197.5,34.8" fill="#fff"/>
<text transform="translate(195.9 33.4) scale(0.8 1)" font-size="13.5" text-anchor="middle" letter-spacing="2.375" stroke="#000" stroke-width="0.15">J19</text>
<polygon points="226.2,43.6 217.5,54.0 231.8,43.6" fill="#fff" stroke="#000" stroke-width="3" stroke-linejoin="round"/>
<rect x="224" y="30" width="33.4" height="16.6" rx="2.8" fill="#000" shape-rendering="auto"/>
<rect x="225.5" y="31.5" width="29.4" height="12.6" rx="1.4" fill="#fff" shape-rendering="auto"/>
<polygon points="226.2,43.6 217.5,54.0 231.8,43.6" fill="#fff"/>
<text transform="translate(241.1 42.6) scale(0.8 1)" font-size="13.5" text-anchor="middle" letter-spacing="2.375" stroke="#000" stroke-width="0.15">J12</text>
<polygon points="172.2,82.4 184.0,69.0 177.8,82.4" fill="#fff" stroke="#000" stroke-width="3" stroke-linejoin="round"/>
<rect x="149" y="80.4" width="31.4" height="16.8" rx="2.8" fill="#000" shape-rendering="auto"/>
<rect x="150.5" y="81.9" width="27.4" height="12.8" rx="1.4" fill="#fff" shape-rendering="auto"/>
<polygon points="172.2,82.4 184.0,69.0 177.8,82.4" fill="#fff"/>
<text transform="translate(165.1 93.1) scale(0.8 1)" font-size="13.5" text-anchor="middle" letter-spacing="2.375" stroke="#000" stroke-width="0.15">J21</text>
<polygon points="202.5,89.0 206.2,80.0 209.5,89.0" fill="#fff" stroke="#000" stroke-width="3" stroke-linejoin="round"/>
<polygon points="208.0,82.0 206.4,70 204.2,82.0" fill="#000" stroke="#000" stroke-width="0.8"/>
<rect x="189.4" y="87" width="33.2" height="17.4" rx="2.8" fill="#000" shape-rendering="auto"/>
<rect x="190.9" y="88.5" width="29.2" height="13.4" rx="1.4" fill="#fff" shape-rendering="auto"/>
<polygon points="202.5,89.0 206.2,80.0 209.5,89.0" fill="#fff"/>
<text transform="translate(206.4 100) scale(0.8 1)" font-size="13.5" text-anchor="middle" letter-spacing="2.375" stroke="#000" stroke-width="0.15">J17</text>
<polygon points="795.7,120.6 786.7,124.7 795.7,128.6" fill="#fff" stroke="#000" stroke-width="3" stroke-linejoin="round"/>
<polygon points="788.7,122.8 778.5,124.8 788.7,126.6" fill="#000" stroke="#000" stroke-width="0.8"/>
<rect x="793.7" y="115" width="25.5" height="18.8" rx="2.8" fill="#000" shape-rendering="auto"/>
<rect x="795.2" y="116.5" width="21.5" height="14.8" rx="1.4" fill="#fff" shape-rendering="auto"/>
<polygon points="795.7,120.6 786.7,124.7 795.7,128.6" fill="#fff"/>
<text transform="translate(806.85 128.7) scale(0.8 1)" font-size="13.5" text-anchor="middle" letter-spacing="2.375" stroke="#000" stroke-width="0.15">J1</text>
<polygon points="246.0,202.6 249.5,211.6 253.0,202.6" fill="#fff" stroke="#000" stroke-width="3" stroke-linejoin="round"/>
<polygon points="247.6,209.6 249.5,221.6 251.4,209.6" fill="#000" stroke="#000" stroke-width="0.8"/>
<rect x="233.4" y="187" width="33.8" height="18.6" rx="2.8" fill="#000" shape-rendering="auto"/>
<rect x="234.9" y="188.5" width="29.8" height="14.6" rx="1.4" fill="#fff" shape-rendering="auto"/>
<polygon points="246.0,202.6 249.5,211.6 253.0,202.6" fill="#fff"/>
<text transform="translate(250.7 200.6) scale(0.8 1)" font-size="13.5" text-anchor="middle" letter-spacing="2.375" stroke="#000" stroke-width="0.15">J13</text>
<polygon points="247.5,263.6 251.0,272.6 254.5,263.6" fill="#fff" stroke="#000" stroke-width="3" stroke-linejoin="round"/>
<polygon points="249.1,270.6 251,283 252.9,270.6" fill="#000" stroke="#000" stroke-width="0.8"/>
<rect x="237.6" y="250" width="31" height="16.6" rx="2.8" fill="#000" shape-rendering="auto"/>
<rect x="239.1" y="251.5" width="27" height="12.6" rx="1.4" fill="#fff" shape-rendering="auto"/>
<polygon points="247.5,263.6 251.0,272.6 254.5,263.6" fill="#fff"/>
<text transform="translate(253.5 262.6) scale(0.8 1)" font-size="13.5" text-anchor="middle" letter-spacing="2.375" stroke="#000" stroke-width="0.15">J14</text>
<polygon points="294.4,234.1 285.4,237.6 294.4,241.1" fill="#fff" stroke="#000" stroke-width="3" stroke-linejoin="round"/>
<polygon points="287.4,235.7 277,237.6 287.4,239.5" fill="#000" stroke="#000" stroke-width="0.8"/>
<rect x="292.4" y="228.4" width="25" height="18.2" rx="2.8" fill="#000" shape-rendering="auto"/>
<rect x="293.9" y="229.9" width="21" height="14.2" rx="1.4" fill="#fff" shape-rendering="auto"/>
<polygon points="294.4,234.1 285.4,237.6 294.4,241.1" fill="#fff"/>
<text transform="translate(305.3 241.8) scale(0.8 1)" font-size="13.5" text-anchor="middle" letter-spacing="2.375" stroke="#000" stroke-width="0.15">J7</text>
<polygon points="296.0,262.1 287.0,265.6 296.0,269.1" fill="#fff" stroke="#000" stroke-width="3" stroke-linejoin="round"/>
<polygon points="289.0,263.7 277,265.6 289.0,267.5" fill="#000" stroke="#000" stroke-width="0.8"/>
<rect x="294" y="256.4" width="23.4" height="17.8" rx="2.8" fill="#000" shape-rendering="auto"/>
<rect x="295.5" y="257.9" width="19.4" height="13.8" rx="1.4" fill="#fff" shape-rendering="auto"/>
<polygon points="296.0,262.1 287.0,265.6 296.0,269.1" fill="#fff"/>
<text transform="translate(306.1 269.6) scale(0.8 1)" font-size="13.5" text-anchor="middle" letter-spacing="2.375" stroke="#000" stroke-width="0.15">J8</text>
<polygon points="288.4,290.5 282.1,293.3 288.4,294.5" fill="#fff" stroke="#000" stroke-width="3" stroke-linejoin="round"/>
<polygon points="283.9,291.2 277,294 284.4,294.9" fill="#000" stroke="#000" stroke-width="0.8"/>
<rect x="286.4" y="278" width="24.2" height="17.8" rx="2.8" fill="#000" shape-rendering="auto"/>
<rect x="287.9" y="279.5" width="20.2" height="13.8" rx="1.4" fill="#fff" shape-rendering="auto"/>
<polygon points="288.4,290.5 282.1,293.3 288.4,294.5" fill="#fff"/>
<text transform="translate(298.9 291.2) scale(0.8 1)" font-size="13.5" text-anchor="middle" letter-spacing="2.375" stroke="#000" stroke-width="0.15">J9</text>
<polygon points="314.4,303.9 305.4,307.4 314.4,310.9" fill="#fff" stroke="#000" stroke-width="3" stroke-linejoin="round"/>
<polygon points="307.4,305.5 296,307.4 307.4,309.3" fill="#000" stroke="#000" stroke-width="0.8"/>
<rect x="312.4" y="299.6" width="22" height="16.2" rx="2.8" fill="#000" shape-rendering="auto"/>
<rect x="313.9" y="301.1" width="18" height="12.2" rx="1.4" fill="#fff" shape-rendering="auto"/>
<polygon points="314.4,303.9 305.4,307.4 314.4,310.9" fill="#fff"/>
<text transform="translate(323.8 312) scale(0.8 1)" font-size="13.5" text-anchor="middle" letter-spacing="2.375" stroke="#000" stroke-width="0.15">J6</text>
<polygon points="294.4,322.2 285.4,325.7 294.4,329.2" fill="#fff" stroke="#000" stroke-width="3" stroke-linejoin="round"/>
<polygon points="287.4,323.8 277.5,325.7 287.4,327.6" fill="#000" stroke="#000" stroke-width="0.8"/>
<rect x="292.4" y="318.4" width="35.6" height="16.8" rx="2.8" fill="#000" shape-rendering="auto"/>
<rect x="293.9" y="319.9" width="31.6" height="12.8" rx="1.4" fill="#fff" shape-rendering="auto"/>
<polygon points="294.4,322.2 285.4,325.7 294.4,329.2" fill="#fff"/>
<text transform="translate(310.6 331.1) scale(0.8 1)" font-size="13.5" text-anchor="middle" letter-spacing="2.375" stroke="#000" stroke-width="0.15">J10</text>
<polygon points="406.1,254.4 409.6,263.4 413.1,254.4" fill="#fff" stroke="#000" stroke-width="3" stroke-linejoin="round"/>
<polygon points="407.7,261.4 409.6,273 411.5,261.4" fill="#000" stroke="#000" stroke-width="0.8"/>
<rect x="397" y="239.6" width="26.4" height="17.8" rx="2.8" fill="#000" shape-rendering="auto"/>
<rect x="398.5" y="241.1" width="22.4" height="13.8" rx="1.4" fill="#fff" shape-rendering="auto"/>
<polygon points="406.1,254.4 409.6,263.4 413.1,254.4" fill="#fff"/>
<text transform="translate(410.6 252.8) scale(0.8 1)" font-size="13.5" text-anchor="middle" letter-spacing="2.375" stroke="#000" stroke-width="0.15">J5</text>
<polygon points="490.0,364.5 481.0,368.0 490.0,371.5" fill="#fff" stroke="#000" stroke-width="3" stroke-linejoin="round"/>
<polygon points="483.0,366.1 473,368 483.0,369.9" fill="#000" stroke="#000" stroke-width="0.8"/>
<rect x="488" y="358.4" width="26.4" height="18" rx="2.8" fill="#000" shape-rendering="auto"/>
<rect x="489.5" y="359.9" width="22.4" height="14" rx="1.4" fill="#fff" shape-rendering="auto"/>
<polygon points="490.0,364.5 481.0,368.0 490.0,371.5" fill="#fff"/>
<text transform="translate(501.6 371.7) scale(0.8 1)" font-size="13.5" text-anchor="middle" letter-spacing="2.375" stroke="#000" stroke-width="0.15">J4</text>
<polygon points="604.0,335.5 595.0,339.0 604.0,342.5" fill="#fff" stroke="#000" stroke-width="3" stroke-linejoin="round"/>
<polygon points="597.0,337.1 587,339 597.0,340.9" fill="#000" stroke="#000" stroke-width="0.8"/>
<rect x="602" y="330.4" width="26" height="17" rx="2.8" fill="#000" shape-rendering="auto"/>
<rect x="603.5" y="331.9" width="22" height="13" rx="1.4" fill="#fff" shape-rendering="auto"/>
<polygon points="604.0,335.5 595.0,339.0 604.0,342.5" fill="#fff"/>
<text transform="translate(615.4 343.2) scale(0.8 1)" font-size="13.5" text-anchor="middle" letter-spacing="2.375" stroke="#000" stroke-width="0.15">J2</text>
<polygon points="603.0,367.0 594.2,370.5 603.0,374.0" fill="#fff" stroke="#000" stroke-width="3" stroke-linejoin="round"/>
<polygon points="596.2,368.6 587,370.5 596.2,372.4" fill="#000" stroke="#000" stroke-width="0.8"/>
<rect x="601" y="361.6" width="26.4" height="17.8" rx="2.8" fill="#000" shape-rendering="auto"/>
<rect x="602.5" y="363.1" width="22.4" height="13.8" rx="1.4" fill="#fff" shape-rendering="auto"/>
<polygon points="603.0,367.0 594.2,370.5 603.0,374.0" fill="#fff"/>
<text transform="translate(614.6 374.8) scale(0.8 1)" font-size="13.5" text-anchor="middle" letter-spacing="2.375" stroke="#000" stroke-width="0.15">J3</text>
<polygon points="245.0,346.4 251.0,334.0 249.0,346.4" fill="#fff" stroke="#000" stroke-width="3" stroke-linejoin="round"/>
<rect x="217.6" y="344.4" width="33.8" height="17" rx="2.8" fill="#000" shape-rendering="auto"/>
<rect x="219.1" y="345.9" width="29.8" height="13" rx="1.4" fill="#fff" shape-rendering="auto"/>
<polygon points="245.0,346.4 251.0,334.0 249.0,346.4" fill="#fff"/>
<text transform="translate(234.9 357.2) scale(0.8 1)" font-size="13.5" text-anchor="middle" letter-spacing="2.375" stroke="#000" stroke-width="0.15">J15</text>
<polygon points="218.3,377.8 207.0,383.5 222.7,377.8" fill="#fff" stroke="#000" stroke-width="3" stroke-linejoin="round"/>
<rect x="216.4" y="363.2" width="34.4" height="17.6" rx="2.8" fill="#000" shape-rendering="auto"/>
<rect x="217.9" y="364.7" width="30.4" height="13.6" rx="1.4" fill="#fff" shape-rendering="auto"/>
<polygon points="218.3,377.8 207.0,383.5 222.7,377.8" fill="#fff"/>
<text transform="translate(234 376.3) scale(0.8 1)" font-size="13.5" text-anchor="middle" letter-spacing="2.375" stroke="#000" stroke-width="0.15">J16</text>
<polygon points="85.2,337.4 99.0,348.0 90.8,337.4" fill="#fff" stroke="#000" stroke-width="3" stroke-linejoin="round"/>
<rect x="60" y="323.4" width="32.6" height="17" rx="2.8" fill="#000" shape-rendering="auto"/>
<rect x="61.5" y="324.9" width="28.6" height="13" rx="1.4" fill="#fff" shape-rendering="auto"/>
<polygon points="85.2,337.4 99.0,348.0 90.8,337.4" fill="#fff"/>
<text transform="translate(76.7 336.2) scale(0.8 1)" font-size="13.5" text-anchor="middle" letter-spacing="2.375" stroke="#000" stroke-width="0.15">J29</text>
<polygon points="108.9,328.4 112.4,337.4 115.9,328.4" fill="#fff" stroke="#000" stroke-width="3" stroke-linejoin="round"/>
<polygon points="110.5,335.4 112.4,348 114.3,335.4" fill="#000" stroke="#000" stroke-width="0.8"/>
<rect x="97.4" y="315" width="33" height="16.4" rx="2.8" fill="#000" shape-rendering="auto"/>
<rect x="98.9" y="316.5" width="29" height="12.4" rx="1.4" fill="#fff" shape-rendering="auto"/>
<polygon points="108.9,328.4 112.4,337.4 115.9,328.4" fill="#fff"/>
<text transform="translate(114.3 327.5) scale(0.8 1)" font-size="13.5" text-anchor="middle" letter-spacing="2.375" stroke="#000" stroke-width="0.15">J27</text>
<polygon points="133.2,338.0 125.0,348.0 138.8,338.0" fill="#fff" stroke="#000" stroke-width="3" stroke-linejoin="round"/>
<rect x="131" y="325" width="34.4" height="16" rx="2.8" fill="#000" shape-rendering="auto"/>
<rect x="132.5" y="326.5" width="30.4" height="12" rx="1.4" fill="#fff" shape-rendering="auto"/>
<polygon points="133.2,338.0 125.0,348.0 138.8,338.0" fill="#fff"/>
<text transform="translate(148.6 337.3) scale(0.8 1)" font-size="13.5" text-anchor="middle" letter-spacing="2.375" stroke="#000" stroke-width="0.15">J25</text>
<polygon points="139.2,365.4 130.4,375.0 144.8,365.4" fill="#fff" stroke="#000" stroke-width="3" stroke-linejoin="round"/>
<rect x="137" y="351" width="33.6" height="17.4" rx="2.8" fill="#000" shape-rendering="auto"/>
<rect x="138.5" y="352.5" width="29.6" height="13.4" rx="1.4" fill="#fff" shape-rendering="auto"/>
<polygon points="139.2,365.4 130.4,375.0 144.8,365.4" fill="#fff"/>
<text transform="translate(154.2 364) scale(0.8 1)" font-size="13.5" text-anchor="middle" letter-spacing="2.375" stroke="#000" stroke-width="0.15">J26</text>
<polygon points="179.2,369.4 175.5,382.0 184.8,369.4" fill="#fff" stroke="#000" stroke-width="3" stroke-linejoin="round"/>
<rect x="177" y="355" width="34.4" height="17.4" rx="2.8" fill="#000" shape-rendering="auto"/>
<rect x="178.5" y="356.5" width="30.4" height="13.4" rx="1.4" fill="#fff" shape-rendering="auto"/>
<polygon points="179.2,369.4 175.5,382.0 184.8,369.4" fill="#fff"/>
<text transform="translate(194.6 368) scale(0.8 1)" font-size="13.5" text-anchor="middle" letter-spacing="2.375" stroke="#000" stroke-width="0.15">J22</text>
<polygon points="86.2,394.4 100.0,385.6 91.8,394.4" fill="#fff" stroke="#000" stroke-width="3" stroke-linejoin="round"/>
<rect x="60" y="392.4" width="34.4" height="18" rx="2.8" fill="#000" shape-rendering="auto"/>
<rect x="61.5" y="393.9" width="30.4" height="14" rx="1.4" fill="#fff" shape-rendering="auto"/>
<polygon points="86.2,394.4 100.0,385.6 91.8,394.4" fill="#fff"/>
<text transform="translate(77.6 405.7) scale(0.8 1)" font-size="13.5" text-anchor="middle" letter-spacing="2.375" stroke="#000" stroke-width="0.15">J30</text>
<polygon points="108.9,403.0 112.4,394.0 115.9,403.0" fill="#fff" stroke="#000" stroke-width="3" stroke-linejoin="round"/>
<polygon points="114.3,396.0 112.4,384 110.5,396.0" fill="#000" stroke="#000" stroke-width="0.8"/>
<rect x="95" y="401" width="33.4" height="17.4" rx="2.8" fill="#000" shape-rendering="auto"/>
<rect x="96.5" y="402.5" width="29.4" height="13.4" rx="1.4" fill="#fff" shape-rendering="auto"/>
<polygon points="108.9,403.0 112.4,394.0 115.9,403.0" fill="#fff"/>
<text transform="translate(112.1 414) scale(0.8 1)" font-size="13.5" text-anchor="middle" letter-spacing="2.375" stroke="#000" stroke-width="0.15">J28</text>
<polygon points="155.2,411.5 166.0,399.0 160.8,411.5" fill="#fff" stroke="#000" stroke-width="3" stroke-linejoin="round"/>
<rect x="132.4" y="409.5" width="31.2" height="14.9" rx="2.8" fill="#000" shape-rendering="auto"/>
<rect x="133.9" y="411" width="27.2" height="10.9" rx="1.4" fill="#fff" shape-rendering="auto"/>
<polygon points="155.2,411.5 166.0,399.0 160.8,411.5" fill="#fff"/>
<text transform="translate(148.4 421.25) scale(0.8 1)" font-size="13.5" text-anchor="middle" letter-spacing="2.375" stroke="#000" stroke-width="0.15">J24</text>
<polygon points="184.0,408.0 187.5,403.1 191.0,408.0" fill="#fff" stroke="#000" stroke-width="3" stroke-linejoin="round"/>
<polygon points="189.4,405.1 187.5,399 185.6,405.1" fill="#000" stroke="#000" stroke-width="0.8"/>
<rect x="171.7" y="406" width="31.3" height="16.2" rx="2.8" fill="#000" shape-rendering="auto"/>
<rect x="173.2" y="407.5" width="27.3" height="12.2" rx="1.4" fill="#fff" shape-rendering="auto"/>
<polygon points="184.0,408.0 187.5,403.1 191.0,408.0" fill="#fff"/>
<text transform="translate(187.75 418.4) scale(0.8 1)" font-size="13.5" text-anchor="middle" letter-spacing="2.375" stroke="#000" stroke-width="0.15">J20</text>
<polygon points="210.2,409.4 203.0,399.0 215.8,409.4" fill="#fff" stroke="#000" stroke-width="3" stroke-linejoin="round"/>
<rect x="207.8" y="407.4" width="32.8" height="17.8" rx="2.8" fill="#000" shape-rendering="auto"/>
<rect x="209.3" y="408.9" width="28.8" height="13.8" rx="1.4" fill="#fff" shape-rendering="auto"/>
<polygon points="210.2,409.4 203.0,399.0 215.8,409.4" fill="#fff"/>
<text transform="translate(223.6 420.6) scale(0.8 1)" font-size="13.5" text-anchor="middle" letter-spacing="2.375" stroke="#000" stroke-width="0.15">J18</text>
<polygon points="243.0,399.5 234.0,403.0 243.0,406.5" fill="#fff" stroke="#000" stroke-width="3" stroke-linejoin="round"/>
<polygon points="236.0,401.1 226,403 236.0,404.9" fill="#000" stroke="#000" stroke-width="0.8"/>
<rect x="241" y="394.2" width="36.6" height="17" rx="2.8" fill="#000" shape-rendering="auto"/>
<rect x="242.5" y="395.7" width="32.6" height="13" rx="1.4" fill="#fff" shape-rendering="auto"/>
<polygon points="243.0,399.5 234.0,403.0 243.0,406.5" fill="#fff"/>
<text transform="translate(258.7 407) scale(0.8 1)" font-size="13.5" text-anchor="middle" letter-spacing="2.375" stroke="#000" stroke-width="0.15">J11</text>
<rect x="91" y="423.3" width="44" height="15.6" rx="3" fill="#000"/>
<rect x="92.5" y="424.8" width="41" height="12.6" rx="2" fill="#fff"/>
<text transform="translate(113 435.7) scale(0.8 1)" font-size="13.5" text-anchor="middle" textLength="45.375" lengthAdjust="spacing" stroke="#000" stroke-width="0.15">TAG 0</text>
<rect x="167.5" y="424.5" width="43" height="15" rx="3" fill="#000"/>
<rect x="169" y="426" width="40" height="12" rx="2" fill="#fff"/>
<text transform="translate(190.3 436.5) scale(0.8 1)" font-size="13.5" text-anchor="middle" textLength="46.125" lengthAdjust="spacing" stroke="#000" stroke-width="0.15">TAG 1</text>
<rect x="120.9" y="459.1" width="49" height="16.4" rx="3" fill="#000"/>
<rect x="122.4" y="460.6" width="46" height="13.4" rx="2" fill="#fff"/>
<text transform="translate(145.6 471.6) scale(0.8 1)" font-size="13.5" text-anchor="middle" textLength="54.375" lengthAdjust="spacing" stroke="#000" stroke-width="0.15">CACHE</text>
<rect x="72.9" y="488.9" width="56.6" height="16.6" rx="3" fill="#000"/>
<rect x="74.4" y="490.4" width="53.6" height="13.6" rx="2" fill="#fff"/>
<text transform="translate(101.7 501.2) scale(0.8 1)" font-size="13.5" text-anchor="middle" textLength="60.125" lengthAdjust="spacing" stroke="#000" stroke-width="0.15">BANK 0</text>
<rect x="160.5" y="489.5" width="58" height="16.4" rx="3" fill="#000"/>
<rect x="162" y="491" width="55" height="13.4" rx="2" fill="#fff"/>
<text transform="translate(190 502) scale(0.8 1)" font-size="13.5" text-anchor="middle" textLength="57.875" lengthAdjust="spacing" stroke="#000" stroke-width="0.15">BANK 1</text>
<rect x="533.6" y="446" width="59" height="18" rx="2.8" fill="#000" shape-rendering="auto"/>
<rect x="535.1" y="447.5" width="55" height="14" rx="1.4" fill="#fff" shape-rendering="auto"/>
<text transform="translate(562.1 459.3) scale(0.8 1)" font-size="13.5" text-anchor="middle" textLength="59.375" lengthAdjust="spacing" stroke="#000" stroke-width="0.15">BANK 3</text>
<rect x="533.6" y="471" width="59" height="18" rx="2.8" fill="#000" shape-rendering="auto"/>
<rect x="535.1" y="472.5" width="55" height="14" rx="1.4" fill="#fff" shape-rendering="auto"/>
<text transform="translate(562.1 484.3) scale(0.8 1)" font-size="13.5" text-anchor="middle" textLength="59.375" lengthAdjust="spacing" stroke="#000" stroke-width="0.15">BANK 2</text>
<rect x="533.6" y="494" width="59" height="18" rx="2.8" fill="#000" shape-rendering="auto"/>
<rect x="535.1" y="495.5" width="55" height="14" rx="1.4" fill="#fff" shape-rendering="auto"/>
<text transform="translate(562.1 507.3) scale(0.8 1)" font-size="13.5" text-anchor="middle" textLength="59.375" lengthAdjust="spacing" stroke="#000" stroke-width="0.15">BANK 1</text>
<rect x="533.6" y="516" width="59" height="18" rx="2.8" fill="#000" shape-rendering="auto"/>
<rect x="535.1" y="517.5" width="55" height="14" rx="1.4" fill="#fff" shape-rendering="auto"/>
<text transform="translate(562.1 529.3) scale(0.8 1)" font-size="13.5" text-anchor="middle" textLength="59.375" lengthAdjust="spacing" stroke="#000" stroke-width="0.15">BANK 0</text>
<polygon points="720.0,297.0 723.5,306.0 727.0,297.0" fill="#fff" stroke="#000" stroke-width="3" stroke-linejoin="round"/>
<polygon points="721.6,304.0 723.5,316 725.4,304.0" fill="#000" stroke="#000" stroke-width="0.8"/>
<rect x="711.6" y="283.6" width="24.8" height="16.4" rx="2.8" fill="#000" shape-rendering="auto"/>
<rect x="713.1" y="285.1" width="20.8" height="12.4" rx="1.4" fill="#fff" shape-rendering="auto"/>
<polygon points="720.0,297.0 723.5,306.0 727.0,297.0" fill="#fff"/>
<text transform="translate(724.4 296.1) scale(0.8 1)" font-size="13.5" text-anchor="middle" letter-spacing="2.375" stroke="#000" stroke-width="0.15">P5</text>
<polygon points="675.4,372.1 684.4,375.6 675.4,379.1" fill="#fff" stroke="#000" stroke-width="3" stroke-linejoin="round"/>
<polygon points="682.4,377.5 695,375.6 682.4,373.7" fill="#000" stroke="#000" stroke-width="0.8"/>
<rect x="653" y="366.6" width="25.4" height="18" rx="2.8" fill="#000" shape-rendering="auto"/>
<rect x="654.5" y="368.1" width="21.4" height="14" rx="1.4" fill="#fff" shape-rendering="auto"/>
<polygon points="675.4,372.1 684.4,375.6 675.4,379.1" fill="#fff"/>
<text transform="translate(666.1 379.9) scale(0.8 1)" font-size="13.5" text-anchor="middle" letter-spacing="2.375" stroke="#000" stroke-width="0.15">P8</text>
<polygon points="758.5,361.4 762.0,370.4 765.5,361.4" fill="#fff" stroke="#000" stroke-width="3" stroke-linejoin="round"/>
<polygon points="760.1,368.4 762,381 763.9,368.4" fill="#000" stroke="#000" stroke-width="0.8"/>
<rect x="740" y="346.4" width="43.4" height="18" rx="2.8" fill="#000" shape-rendering="auto"/>
<rect x="741.5" y="347.9" width="39.4" height="14" rx="1.4" fill="#fff" shape-rendering="auto"/>
<polygon points="758.5,361.4 762.0,370.4 765.5,361.4" fill="#fff"/>
<text transform="translate(761.7 359.7) scale(0.8 1)" font-size="13.5" text-anchor="middle" textLength="45.625" lengthAdjust="spacing" stroke="#000" stroke-width="0.15">COM2</text>
<polygon points="808.0,395.1 799.0,398.6 808.0,402.1" fill="#fff" stroke="#000" stroke-width="3" stroke-linejoin="round"/>
<polygon points="801.0,396.7 791,398.6 801.0,400.5" fill="#000" stroke="#000" stroke-width="0.8"/>
<rect x="806" y="389.6" width="43.4" height="17.8" rx="2.8" fill="#000" shape-rendering="auto"/>
<rect x="807.5" y="391.1" width="39.4" height="13.8" rx="1.4" fill="#fff" shape-rendering="auto"/>
<polygon points="808.0,395.1 799.0,398.6 808.0,402.1" fill="#fff"/>
<text transform="translate(827.7 402.8) scale(0.8 1)" font-size="13.5" text-anchor="middle" textLength="44.375" lengthAdjust="spacing" stroke="#000" stroke-width="0.15">COM1</text>
<polygon points="759.5,441.0 763.0,450.0 766.5,441.0" fill="#fff" stroke="#000" stroke-width="3" stroke-linejoin="round"/>
<polygon points="761.1,448.0 763,460 764.9,448.0" fill="#000" stroke="#000" stroke-width="0.8"/>
<rect x="751.6" y="426.4" width="25.8" height="17.6" rx="2.8" fill="#000" shape-rendering="auto"/>
<rect x="753.1" y="427.9" width="21.8" height="13.6" rx="1.4" fill="#fff" shape-rendering="auto"/>
<polygon points="759.5,441.0 763.0,450.0 766.5,441.0" fill="#fff"/>
<text transform="translate(764.9 439.5) scale(0.8 1)" font-size="13.5" text-anchor="middle" letter-spacing="2.375" stroke="#000" stroke-width="0.15">P4</text>
</svg>
</body></html>
